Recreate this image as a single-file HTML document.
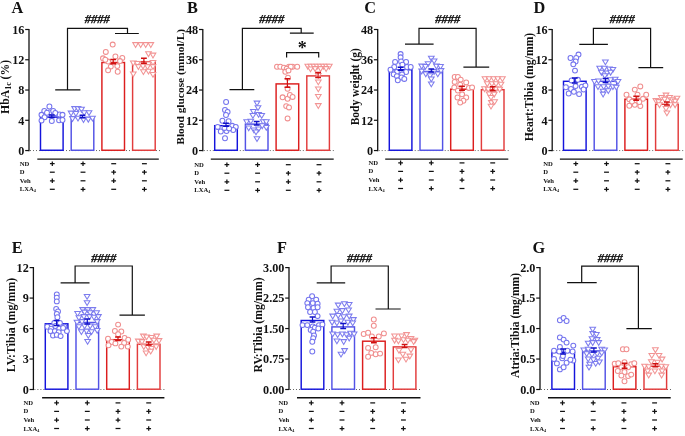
<!DOCTYPE html>
<html><head><meta charset="utf-8"><style>
html,body{margin:0;padding:0;background:#fff;}
svg{display:block;will-change:transform;}
</style></head><body>
<svg width="685" height="436" viewBox="0 0 685 436" font-family="'Liberation Serif', serif" fill="#111">
<rect width="685" height="436" fill="#fff"/>
<text x="11.4" y="12.8" font-size="16.3" font-weight="bold">A</text>
<text transform="translate(8.9,86.9) rotate(-90)" text-anchor="middle" font-size="11.7" font-weight="bold">HbA<tspan font-size="8" dy="2.5">1c</tspan><tspan dy="-2.5"> (%)</tspan></text>
<path d="M29 28.9V151.15" stroke="#111" stroke-width="1.3" fill="none"/>
<path d="M25.2 150.55H29" stroke="#111" stroke-width="1.2"/>
<text x="24.4" y="154.85" text-anchor="end" font-size="12.2" font-weight="bold">0</text>
<path d="M25.2 120.29H29" stroke="#111" stroke-width="1.2"/>
<text x="24.4" y="124.59" text-anchor="end" font-size="12.2" font-weight="bold">4</text>
<path d="M25.2 90.03H29" stroke="#111" stroke-width="1.2"/>
<text x="24.4" y="94.33" text-anchor="end" font-size="12.2" font-weight="bold">8</text>
<path d="M25.2 59.76H29" stroke="#111" stroke-width="1.2"/>
<text x="24.4" y="64.06" text-anchor="end" font-size="12.2" font-weight="bold">12</text>
<path d="M25.2 29.5H29" stroke="#111" stroke-width="1.2"/>
<text x="24.4" y="33.8" text-anchor="end" font-size="12.2" font-weight="bold">16</text>
<path d="M30 150.55H160.4" stroke="#666" stroke-width="1" stroke-dasharray="1 2"/>
<rect x="40.5" y="117.1" width="22.6" height="33.15" fill="#fff" stroke="#1414dc" stroke-width="1.45"/>
<rect x="71.2" y="117.4" width="22.6" height="32.85" fill="#fff" stroke="#5252e6" stroke-width="1.45"/>
<rect x="101.9" y="62.5" width="22.6" height="87.75" fill="#fff" stroke="#dc1e1e" stroke-width="1.45"/>
<rect x="132.6" y="61.7" width="22.6" height="88.55" fill="#fff" stroke="#e23c3c" stroke-width="1.45"/>
<circle cx="49.4" cy="106.5" r="2.45" fill="#fff" stroke="#7474ee" stroke-width="1.05"/>
<circle cx="44.3" cy="111" r="2.45" fill="#fff" stroke="#7474ee" stroke-width="1.05"/>
<circle cx="49.4" cy="112.4" r="2.45" fill="#fff" stroke="#7474ee" stroke-width="1.05"/>
<circle cx="53.2" cy="111" r="2.45" fill="#fff" stroke="#7474ee" stroke-width="1.05"/>
<circle cx="41.5" cy="114.8" r="2.45" fill="#fff" stroke="#7474ee" stroke-width="1.05"/>
<circle cx="44.6" cy="117.2" r="2.45" fill="#fff" stroke="#7474ee" stroke-width="1.05"/>
<circle cx="59.4" cy="114.5" r="2.45" fill="#fff" stroke="#7474ee" stroke-width="1.05"/>
<circle cx="62.5" cy="114.8" r="2.45" fill="#fff" stroke="#7474ee" stroke-width="1.05"/>
<circle cx="41.5" cy="120.6" r="2.45" fill="#fff" stroke="#7474ee" stroke-width="1.05"/>
<circle cx="51.8" cy="121" r="2.45" fill="#fff" stroke="#7474ee" stroke-width="1.05"/>
<circle cx="59.1" cy="120.3" r="2.45" fill="#fff" stroke="#7474ee" stroke-width="1.05"/>
<circle cx="62.5" cy="120" r="2.45" fill="#fff" stroke="#7474ee" stroke-width="1.05"/>
<circle cx="47" cy="112.7" r="2.45" fill="#fff" stroke="#7474ee" stroke-width="1.05"/>
<circle cx="55.3" cy="113" r="2.45" fill="#fff" stroke="#7474ee" stroke-width="1.05"/>
<path d="M71.75 106.6H77.45L74.6 111.4Z" fill="#fff" stroke="#7c7cee" stroke-width="1.05" stroke-linejoin="miter"/>
<path d="M75.15 106.6H80.85L78 111.4Z" fill="#fff" stroke="#7c7cee" stroke-width="1.05" stroke-linejoin="miter"/>
<path d="M78.65 107.3H84.35L81.5 112.1Z" fill="#fff" stroke="#7c7cee" stroke-width="1.05" stroke-linejoin="miter"/>
<path d="M68.25 111.1H73.95L71.1 115.9Z" fill="#fff" stroke="#7c7cee" stroke-width="1.05" stroke-linejoin="miter"/>
<path d="M73.05 111.4H78.75L75.9 116.2Z" fill="#fff" stroke="#7c7cee" stroke-width="1.05" stroke-linejoin="miter"/>
<path d="M81.35 110.7H87.05L84.2 115.5Z" fill="#fff" stroke="#7c7cee" stroke-width="1.05" stroke-linejoin="miter"/>
<path d="M86.15 110.7H91.85L89 115.5Z" fill="#fff" stroke="#7c7cee" stroke-width="1.05" stroke-linejoin="miter"/>
<path d="M69.65 116.6H75.35L72.5 121.4Z" fill="#fff" stroke="#7c7cee" stroke-width="1.05" stroke-linejoin="miter"/>
<path d="M75.15 116.2H80.85L78 121Z" fill="#fff" stroke="#7c7cee" stroke-width="1.05" stroke-linejoin="miter"/>
<path d="M80.65 117.6H86.35L83.5 122.4Z" fill="#fff" stroke="#7c7cee" stroke-width="1.05" stroke-linejoin="miter"/>
<path d="M85.45 117.3H91.15L88.3 122.1Z" fill="#fff" stroke="#7c7cee" stroke-width="1.05" stroke-linejoin="miter"/>
<path d="M89.65 116.2H95.35L92.5 121Z" fill="#fff" stroke="#7c7cee" stroke-width="1.05" stroke-linejoin="miter"/>
<circle cx="112.7" cy="44.6" r="2.45" fill="#fff" stroke="#f08e8e" stroke-width="1.05"/>
<circle cx="105.8" cy="51.9" r="2.45" fill="#fff" stroke="#f08e8e" stroke-width="1.05"/>
<circle cx="103" cy="58.3" r="2.45" fill="#fff" stroke="#f08e8e" stroke-width="1.05"/>
<circle cx="108.1" cy="61.6" r="2.45" fill="#fff" stroke="#f08e8e" stroke-width="1.05"/>
<circle cx="115.4" cy="56.5" r="2.45" fill="#fff" stroke="#f08e8e" stroke-width="1.05"/>
<circle cx="122.3" cy="57.9" r="2.45" fill="#fff" stroke="#f08e8e" stroke-width="1.05"/>
<circle cx="110.8" cy="66.6" r="2.45" fill="#fff" stroke="#f08e8e" stroke-width="1.05"/>
<circle cx="117.3" cy="66.1" r="2.45" fill="#fff" stroke="#f08e8e" stroke-width="1.05"/>
<circle cx="108.1" cy="70.3" r="2.45" fill="#fff" stroke="#f08e8e" stroke-width="1.05"/>
<circle cx="117.7" cy="71.7" r="2.45" fill="#fff" stroke="#f08e8e" stroke-width="1.05"/>
<circle cx="120" cy="61.1" r="2.45" fill="#fff" stroke="#f08e8e" stroke-width="1.05"/>
<circle cx="105.3" cy="59.7" r="2.45" fill="#fff" stroke="#f08e8e" stroke-width="1.05"/>
<path d="M132.75 42.6H138.45L135.6 47.4Z" fill="#fff" stroke="#f29494" stroke-width="1.05" stroke-linejoin="miter"/>
<path d="M137.85 42.6H143.55L140.7 47.4Z" fill="#fff" stroke="#f29494" stroke-width="1.05" stroke-linejoin="miter"/>
<path d="M142.85 42.6H148.55L145.7 47.4Z" fill="#fff" stroke="#f29494" stroke-width="1.05" stroke-linejoin="miter"/>
<path d="M147.95 42.6H153.65L150.8 47.4Z" fill="#fff" stroke="#f29494" stroke-width="1.05" stroke-linejoin="miter"/>
<path d="M145.65 51.8H151.35L148.5 56.6Z" fill="#fff" stroke="#f29494" stroke-width="1.05" stroke-linejoin="miter"/>
<path d="M150.15 53.1H155.85L153 57.9Z" fill="#fff" stroke="#f29494" stroke-width="1.05" stroke-linejoin="miter"/>
<path d="M130.45 60.9H136.15L133.3 65.7Z" fill="#fff" stroke="#f29494" stroke-width="1.05" stroke-linejoin="miter"/>
<path d="M134.55 61.4H140.25L137.4 66.2Z" fill="#fff" stroke="#f29494" stroke-width="1.05" stroke-linejoin="miter"/>
<path d="M145.65 61.9H151.35L148.5 66.7Z" fill="#fff" stroke="#f29494" stroke-width="1.05" stroke-linejoin="miter"/>
<path d="M150.15 60.5H155.85L153 65.3Z" fill="#fff" stroke="#f29494" stroke-width="1.05" stroke-linejoin="miter"/>
<path d="M135.55 64.6H141.25L138.4 69.4Z" fill="#fff" stroke="#f29494" stroke-width="1.05" stroke-linejoin="miter"/>
<path d="M140.15 64.1H145.85L143 68.9Z" fill="#fff" stroke="#f29494" stroke-width="1.05" stroke-linejoin="miter"/>
<path d="M144.65 64.6H150.35L147.5 69.4Z" fill="#fff" stroke="#f29494" stroke-width="1.05" stroke-linejoin="miter"/>
<path d="M150.15 64.6H155.85L153 69.4Z" fill="#fff" stroke="#f29494" stroke-width="1.05" stroke-linejoin="miter"/>
<path d="M140.55 69.7H146.25L143.4 74.5Z" fill="#fff" stroke="#f29494" stroke-width="1.05" stroke-linejoin="miter"/>
<path d="M145.65 69.2H151.35L148.5 74Z" fill="#fff" stroke="#f29494" stroke-width="1.05" stroke-linejoin="miter"/>
<path d="M130.45 72H136.15L133.3 76.8Z" fill="#fff" stroke="#f29494" stroke-width="1.05" stroke-linejoin="miter"/>
<path d="M150.15 72.4H155.85L153 77.2Z" fill="#fff" stroke="#f29494" stroke-width="1.05" stroke-linejoin="miter"/>
<path d="M51.8 115V117.4" stroke="#1010c8" stroke-width="1.2" fill="none"/>
<path d="M48.9 115H54.7M48.9 117.4H54.7" stroke="#1010c8" stroke-width="1.5" fill="none"/>
<path d="M82.5 115.3V117.7" stroke="#1010c8" stroke-width="1.2" fill="none"/>
<path d="M79.6 115.3H85.4M79.6 117.7H85.4" stroke="#1010c8" stroke-width="1.5" fill="none"/>
<path d="M113.2 59.4V63.8" stroke="#d01010" stroke-width="1.2" fill="none"/>
<path d="M110.3 59.4H116.1M110.3 63.8H116.1" stroke="#d01010" stroke-width="1.5" fill="none"/>
<path d="M143.9 58.3V63.3" stroke="#d01010" stroke-width="1.2" fill="none"/>
<path d="M141 58.3H146.8M141 63.3H146.8" stroke="#d01010" stroke-width="1.5" fill="none"/>
<path d="M67.5 89.8V28.3H127.5V33.5M55.2 89.8H80.4M115 33.5H138.8" stroke="#111" stroke-width="1.2" fill="none"/>
<text x="97.3" y="23.4" text-anchor="middle" font-size="12.5" font-weight="bold" font-style="italic" stroke="#000" stroke-width="0.25">####</text>
<path d="M37.3 159.1H158.8" stroke="#111" stroke-width="1.4"/>
<text x="19.8" y="165.7" font-size="6.6" font-weight="bold">ND</text>
<path d="M49.95 163.7H54.65M52.3 161.4V166" stroke="#111" stroke-width="1.25"/>
<path d="M80.65 163.7H85.35M83 161.4V166" stroke="#111" stroke-width="1.25"/>
<path d="M111.25 163.7H116.15" stroke="#111" stroke-width="1.25"/>
<path d="M141.95 163.7H146.85" stroke="#111" stroke-width="1.25"/>
<text x="19.8" y="174.2" font-size="6.6" font-weight="bold">D</text>
<path d="M49.85 172.2H54.75" stroke="#111" stroke-width="1.25"/>
<path d="M80.55 172.2H85.45" stroke="#111" stroke-width="1.25"/>
<path d="M111.35 172.2H116.05M113.7 169.9V174.5" stroke="#111" stroke-width="1.25"/>
<path d="M142.05 172.2H146.75M144.4 169.9V174.5" stroke="#111" stroke-width="1.25"/>
<text x="19.8" y="182.8" font-size="6.6" font-weight="bold">Veh</text>
<path d="M49.95 180.8H54.65M52.3 178.5V183.1" stroke="#111" stroke-width="1.25"/>
<path d="M80.55 180.8H85.45" stroke="#111" stroke-width="1.25"/>
<path d="M111.35 180.8H116.05M113.7 178.5V183.1" stroke="#111" stroke-width="1.25"/>
<path d="M141.95 180.8H146.85" stroke="#111" stroke-width="1.25"/>
<text x="19.8" y="191.3" font-size="6.6" font-weight="bold">LXA<tspan font-size="4.2" dy="1">4</tspan></text>
<path d="M49.85 189.3H54.75" stroke="#111" stroke-width="1.25"/>
<path d="M80.65 189.3H85.35M83 187V191.6" stroke="#111" stroke-width="1.25"/>
<path d="M111.25 189.3H116.15" stroke="#111" stroke-width="1.25"/>
<path d="M142.05 189.3H146.75M144.4 187V191.6" stroke="#111" stroke-width="1.25"/>
<text x="187.1" y="12.8" font-size="16.3" font-weight="bold">B</text>
<text transform="translate(184.2,86.75) rotate(-90)" text-anchor="middle" font-size="11.4" font-weight="bold">Blood glucose (mmol/L)</text>
<path d="M202.8 28.9V151.15" stroke="#111" stroke-width="1.3" fill="none"/>
<path d="M199 150.55H202.8" stroke="#111" stroke-width="1.2"/>
<text x="198.2" y="154.85" text-anchor="end" font-size="12.2" font-weight="bold">0</text>
<path d="M199 120.29H202.8" stroke="#111" stroke-width="1.2"/>
<text x="198.2" y="124.59" text-anchor="end" font-size="12.2" font-weight="bold">12</text>
<path d="M199 90.03H202.8" stroke="#111" stroke-width="1.2"/>
<text x="198.2" y="94.33" text-anchor="end" font-size="12.2" font-weight="bold">24</text>
<path d="M199 59.76H202.8" stroke="#111" stroke-width="1.2"/>
<text x="198.2" y="64.06" text-anchor="end" font-size="12.2" font-weight="bold">36</text>
<path d="M199 29.5H202.8" stroke="#111" stroke-width="1.2"/>
<text x="198.2" y="33.8" text-anchor="end" font-size="12.2" font-weight="bold">48</text>
<path d="M203.8 150.55H334.6" stroke="#666" stroke-width="1" stroke-dasharray="1 2"/>
<rect x="214.7" y="125.7" width="22.6" height="24.55" fill="#fff" stroke="#1414dc" stroke-width="1.45"/>
<rect x="245.4" y="124.1" width="22.6" height="26.15" fill="#fff" stroke="#5252e6" stroke-width="1.45"/>
<rect x="276.1" y="83.9" width="22.6" height="66.35" fill="#fff" stroke="#dc1e1e" stroke-width="1.45"/>
<rect x="306.8" y="75.9" width="22.6" height="74.35" fill="#fff" stroke="#e23c3c" stroke-width="1.45"/>
<circle cx="226.1" cy="102" r="2.45" fill="#fff" stroke="#7474ee" stroke-width="1.05"/>
<circle cx="225" cy="110" r="2.45" fill="#fff" stroke="#7474ee" stroke-width="1.05"/>
<circle cx="227.6" cy="112" r="2.45" fill="#fff" stroke="#7474ee" stroke-width="1.05"/>
<circle cx="226" cy="115" r="2.45" fill="#fff" stroke="#7474ee" stroke-width="1.05"/>
<circle cx="222.4" cy="120.7" r="2.45" fill="#fff" stroke="#7474ee" stroke-width="1.05"/>
<circle cx="228.6" cy="121.2" r="2.45" fill="#fff" stroke="#7474ee" stroke-width="1.05"/>
<circle cx="217.7" cy="126.9" r="2.45" fill="#fff" stroke="#7474ee" stroke-width="1.05"/>
<circle cx="232.2" cy="125.8" r="2.45" fill="#fff" stroke="#7474ee" stroke-width="1.05"/>
<circle cx="235.8" cy="126.9" r="2.45" fill="#fff" stroke="#7474ee" stroke-width="1.05"/>
<circle cx="220.8" cy="131.5" r="2.45" fill="#fff" stroke="#7474ee" stroke-width="1.05"/>
<circle cx="226.5" cy="131" r="2.45" fill="#fff" stroke="#7474ee" stroke-width="1.05"/>
<circle cx="233.2" cy="130" r="2.45" fill="#fff" stroke="#7474ee" stroke-width="1.05"/>
<circle cx="225" cy="138.2" r="2.45" fill="#fff" stroke="#7474ee" stroke-width="1.05"/>
<circle cx="224.5" cy="127.9" r="2.45" fill="#fff" stroke="#7474ee" stroke-width="1.05"/>
<circle cx="229.1" cy="128.4" r="2.45" fill="#fff" stroke="#7474ee" stroke-width="1.05"/>
<path d="M254.15 101.1H259.85L257 105.9Z" fill="#fff" stroke="#7c7cee" stroke-width="1.05" stroke-linejoin="miter"/>
<path d="M255.15 105.7H260.85L258 110.5Z" fill="#fff" stroke="#7c7cee" stroke-width="1.05" stroke-linejoin="miter"/>
<path d="M250.55 109.4H256.25L253.4 114.2Z" fill="#fff" stroke="#7c7cee" stroke-width="1.05" stroke-linejoin="miter"/>
<path d="M255.75 112.5H261.45L258.6 117.3Z" fill="#fff" stroke="#7c7cee" stroke-width="1.05" stroke-linejoin="miter"/>
<path d="M250.05 113.5H255.75L252.9 118.3Z" fill="#fff" stroke="#7c7cee" stroke-width="1.05" stroke-linejoin="miter"/>
<path d="M258.85 113.5H264.55L261.7 118.3Z" fill="#fff" stroke="#7c7cee" stroke-width="1.05" stroke-linejoin="miter"/>
<path d="M243.85 119.7H249.55L246.7 124.5Z" fill="#fff" stroke="#7c7cee" stroke-width="1.05" stroke-linejoin="miter"/>
<path d="M247.95 119.2H253.65L250.8 124Z" fill="#fff" stroke="#7c7cee" stroke-width="1.05" stroke-linejoin="miter"/>
<path d="M260.35 119.7H266.05L263.2 124.5Z" fill="#fff" stroke="#7c7cee" stroke-width="1.05" stroke-linejoin="miter"/>
<path d="M263.45 119.7H269.15L266.3 124.5Z" fill="#fff" stroke="#7c7cee" stroke-width="1.05" stroke-linejoin="miter"/>
<path d="M245.85 125.9H251.55L248.7 130.7Z" fill="#fff" stroke="#7c7cee" stroke-width="1.05" stroke-linejoin="miter"/>
<path d="M251.05 128H256.75L253.9 132.8Z" fill="#fff" stroke="#7c7cee" stroke-width="1.05" stroke-linejoin="miter"/>
<path d="M255.75 126.9H261.45L258.6 131.7Z" fill="#fff" stroke="#7c7cee" stroke-width="1.05" stroke-linejoin="miter"/>
<path d="M263.45 125.4H269.15L266.3 130.2Z" fill="#fff" stroke="#7c7cee" stroke-width="1.05" stroke-linejoin="miter"/>
<path d="M259.35 123.8H265.05L262.2 128.6Z" fill="#fff" stroke="#7c7cee" stroke-width="1.05" stroke-linejoin="miter"/>
<path d="M253.15 130H258.85L256 134.8Z" fill="#fff" stroke="#7c7cee" stroke-width="1.05" stroke-linejoin="miter"/>
<path d="M254.15 136.7H259.85L257 141.5Z" fill="#fff" stroke="#7c7cee" stroke-width="1.05" stroke-linejoin="miter"/>
<circle cx="277" cy="66.7" r="2.45" fill="#fff" stroke="#f08e8e" stroke-width="1.05"/>
<circle cx="280.3" cy="66.7" r="2.45" fill="#fff" stroke="#f08e8e" stroke-width="1.05"/>
<circle cx="289" cy="66.7" r="2.45" fill="#fff" stroke="#f08e8e" stroke-width="1.05"/>
<circle cx="292.6" cy="66.7" r="2.45" fill="#fff" stroke="#f08e8e" stroke-width="1.05"/>
<circle cx="297.2" cy="66.7" r="2.45" fill="#fff" stroke="#f08e8e" stroke-width="1.05"/>
<circle cx="283.9" cy="67.6" r="2.45" fill="#fff" stroke="#f08e8e" stroke-width="1.05"/>
<circle cx="286.7" cy="68.6" r="2.45" fill="#fff" stroke="#f08e8e" stroke-width="1.05"/>
<circle cx="290.8" cy="66.7" r="2.45" fill="#fff" stroke="#f08e8e" stroke-width="1.05"/>
<circle cx="285.3" cy="71.8" r="2.45" fill="#fff" stroke="#f08e8e" stroke-width="1.05"/>
<circle cx="288.5" cy="70.4" r="2.45" fill="#fff" stroke="#f08e8e" stroke-width="1.05"/>
<circle cx="288" cy="77.7" r="2.45" fill="#fff" stroke="#f08e8e" stroke-width="1.05"/>
<circle cx="287.6" cy="88.7" r="2.45" fill="#fff" stroke="#f08e8e" stroke-width="1.05"/>
<circle cx="282.6" cy="97.3" r="2.45" fill="#fff" stroke="#f08e8e" stroke-width="1.05"/>
<circle cx="287.6" cy="98.7" r="2.45" fill="#fff" stroke="#f08e8e" stroke-width="1.05"/>
<circle cx="289.9" cy="95" r="2.45" fill="#fff" stroke="#f08e8e" stroke-width="1.05"/>
<circle cx="292.6" cy="96.9" r="2.45" fill="#fff" stroke="#f08e8e" stroke-width="1.05"/>
<circle cx="286.2" cy="106.1" r="2.45" fill="#fff" stroke="#f08e8e" stroke-width="1.05"/>
<circle cx="289" cy="107.4" r="2.45" fill="#fff" stroke="#f08e8e" stroke-width="1.05"/>
<circle cx="287.6" cy="118.4" r="2.45" fill="#fff" stroke="#f08e8e" stroke-width="1.05"/>
<path d="M304.95 64.3H310.65L307.8 69.1Z" fill="#fff" stroke="#f29494" stroke-width="1.05" stroke-linejoin="miter"/>
<path d="M308.05 64.3H313.75L310.9 69.1Z" fill="#fff" stroke="#f29494" stroke-width="1.05" stroke-linejoin="miter"/>
<path d="M311.15 64.3H316.85L314 69.1Z" fill="#fff" stroke="#f29494" stroke-width="1.05" stroke-linejoin="miter"/>
<path d="M314.25 64.3H319.95L317.1 69.1Z" fill="#fff" stroke="#f29494" stroke-width="1.05" stroke-linejoin="miter"/>
<path d="M317.35 64.3H323.05L320.2 69.1Z" fill="#fff" stroke="#f29494" stroke-width="1.05" stroke-linejoin="miter"/>
<path d="M320.45 64.3H326.15L323.3 69.1Z" fill="#fff" stroke="#f29494" stroke-width="1.05" stroke-linejoin="miter"/>
<path d="M323.55 64.3H329.25L326.4 69.1Z" fill="#fff" stroke="#f29494" stroke-width="1.05" stroke-linejoin="miter"/>
<path d="M326.45 64.3H332.15L329.3 69.1Z" fill="#fff" stroke="#f29494" stroke-width="1.05" stroke-linejoin="miter"/>
<path d="M307.65 67H313.35L310.5 71.8Z" fill="#fff" stroke="#f29494" stroke-width="1.05" stroke-linejoin="miter"/>
<path d="M312.25 66.6H317.95L315.1 71.4Z" fill="#fff" stroke="#f29494" stroke-width="1.05" stroke-linejoin="miter"/>
<path d="M317.75 66.6H323.45L320.6 71.4Z" fill="#fff" stroke="#f29494" stroke-width="1.05" stroke-linejoin="miter"/>
<path d="M323.25 66.6H328.95L326.1 71.4Z" fill="#fff" stroke="#f29494" stroke-width="1.05" stroke-linejoin="miter"/>
<path d="M315.45 73.5H321.15L318.3 78.3Z" fill="#fff" stroke="#f29494" stroke-width="1.05" stroke-linejoin="miter"/>
<path d="M315.45 80H321.15L318.3 84.8Z" fill="#fff" stroke="#f29494" stroke-width="1.05" stroke-linejoin="miter"/>
<path d="M315.45 87H321.15L318.3 91.8Z" fill="#fff" stroke="#f29494" stroke-width="1.05" stroke-linejoin="miter"/>
<path d="M315.45 94.4H321.15L318.3 99.2Z" fill="#fff" stroke="#f29494" stroke-width="1.05" stroke-linejoin="miter"/>
<path d="M315.45 103.6H321.15L318.3 108.4Z" fill="#fff" stroke="#f29494" stroke-width="1.05" stroke-linejoin="miter"/>
<path d="M226 123.3V126.3" stroke="#1010c8" stroke-width="1.2" fill="none"/>
<path d="M223.1 123.3H228.9M223.1 126.3H228.9" stroke="#1010c8" stroke-width="1.5" fill="none"/>
<path d="M256.7 121.4V125" stroke="#1010c8" stroke-width="1.2" fill="none"/>
<path d="M253.8 121.4H259.6M253.8 125H259.6" stroke="#1010c8" stroke-width="1.5" fill="none"/>
<path d="M287.4 78.8V87.2" stroke="#d01010" stroke-width="1.2" fill="none"/>
<path d="M284.5 78.8H290.3M284.5 87.2H290.3" stroke="#d01010" stroke-width="1.5" fill="none"/>
<path d="M318.1 72.5V77.5" stroke="#d01010" stroke-width="1.2" fill="none"/>
<path d="M315.2 72.5H321M315.2 77.5H321" stroke="#d01010" stroke-width="1.5" fill="none"/>
<path d="M242.4 89.7V28.3H301.2V33.2M229.5 89.7H254.3M289.9 33.2H313.7" stroke="#111" stroke-width="1.2" fill="none"/>
<text x="271.8" y="23.4" text-anchor="middle" font-size="12.5" font-weight="bold" font-style="italic" stroke="#000" stroke-width="0.25">####</text>
<text x="302.3" y="53.8" text-anchor="middle" font-size="18" font-weight="bold">*</text>
<path d="M286.6 57.6V52.7H318.7V57.6" stroke="#111" stroke-width="1.2" fill="none"/>
<path d="M210.8 159.1H333.7" stroke="#111" stroke-width="1.4"/>
<text x="194.3" y="166.7" font-size="6.6" font-weight="bold">ND</text>
<path d="M224.55 164.7H229.25M226.9 162.4V167" stroke="#111" stroke-width="1.25"/>
<path d="M255.25 164.7H259.95M257.6 162.4V167" stroke="#111" stroke-width="1.25"/>
<path d="M285.85 164.7H290.75" stroke="#111" stroke-width="1.25"/>
<path d="M316.55 164.7H321.45" stroke="#111" stroke-width="1.25"/>
<text x="194.3" y="175.2" font-size="6.6" font-weight="bold">D</text>
<path d="M224.45 173.2H229.35" stroke="#111" stroke-width="1.25"/>
<path d="M255.15 173.2H260.05" stroke="#111" stroke-width="1.25"/>
<path d="M285.95 173.2H290.65M288.3 170.9V175.5" stroke="#111" stroke-width="1.25"/>
<path d="M316.65 173.2H321.35M319 170.9V175.5" stroke="#111" stroke-width="1.25"/>
<text x="194.3" y="183.8" font-size="6.6" font-weight="bold">Veh</text>
<path d="M224.55 181.8H229.25M226.9 179.5V184.1" stroke="#111" stroke-width="1.25"/>
<path d="M255.15 181.8H260.05" stroke="#111" stroke-width="1.25"/>
<path d="M285.95 181.8H290.65M288.3 179.5V184.1" stroke="#111" stroke-width="1.25"/>
<path d="M316.55 181.8H321.45" stroke="#111" stroke-width="1.25"/>
<text x="194.3" y="192.3" font-size="6.6" font-weight="bold">LXA<tspan font-size="4.2" dy="1">4</tspan></text>
<path d="M224.45 190.3H229.35" stroke="#111" stroke-width="1.25"/>
<path d="M255.25 190.3H259.95M257.6 188V192.6" stroke="#111" stroke-width="1.25"/>
<path d="M285.85 190.3H290.75" stroke="#111" stroke-width="1.25"/>
<path d="M316.65 190.3H321.35M319 188V192.6" stroke="#111" stroke-width="1.25"/>
<text x="364.3" y="12.8" font-size="16.3" font-weight="bold">C</text>
<text transform="translate(358.6,86.7) rotate(-90)" text-anchor="middle" font-size="11.5" font-weight="bold">Body weight (g)</text>
<path d="M377.7 28.9V151.15" stroke="#111" stroke-width="1.3" fill="none"/>
<path d="M373.9 150.55H377.7" stroke="#111" stroke-width="1.2"/>
<text x="373.1" y="154.85" text-anchor="end" font-size="12.2" font-weight="bold">0</text>
<path d="M373.9 120.29H377.7" stroke="#111" stroke-width="1.2"/>
<text x="373.1" y="124.59" text-anchor="end" font-size="12.2" font-weight="bold">12</text>
<path d="M373.9 90.03H377.7" stroke="#111" stroke-width="1.2"/>
<text x="373.1" y="94.33" text-anchor="end" font-size="12.2" font-weight="bold">24</text>
<path d="M373.9 59.76H377.7" stroke="#111" stroke-width="1.2"/>
<text x="373.1" y="64.06" text-anchor="end" font-size="12.2" font-weight="bold">36</text>
<path d="M373.9 29.5H377.7" stroke="#111" stroke-width="1.2"/>
<text x="373.1" y="33.8" text-anchor="end" font-size="12.2" font-weight="bold">48</text>
<path d="M378.7 150.55H509.2" stroke="#666" stroke-width="1" stroke-dasharray="1 2"/>
<rect x="389.3" y="69.7" width="22.6" height="80.55" fill="#fff" stroke="#1414dc" stroke-width="1.45"/>
<rect x="420" y="71.5" width="22.6" height="78.75" fill="#fff" stroke="#5252e6" stroke-width="1.45"/>
<rect x="450.7" y="89.2" width="22.6" height="61.05" fill="#fff" stroke="#dc1e1e" stroke-width="1.45"/>
<rect x="481.4" y="89.7" width="22.6" height="60.55" fill="#fff" stroke="#e23c3c" stroke-width="1.45"/>
<circle cx="400.6" cy="54.1" r="2.45" fill="#fff" stroke="#7474ee" stroke-width="1.05"/>
<circle cx="400.6" cy="57.3" r="2.45" fill="#fff" stroke="#7474ee" stroke-width="1.05"/>
<circle cx="395.1" cy="61.9" r="2.45" fill="#fff" stroke="#7474ee" stroke-width="1.05"/>
<circle cx="401.1" cy="61.5" r="2.45" fill="#fff" stroke="#7474ee" stroke-width="1.05"/>
<circle cx="406.1" cy="61.9" r="2.45" fill="#fff" stroke="#7474ee" stroke-width="1.05"/>
<circle cx="402.4" cy="64.7" r="2.45" fill="#fff" stroke="#7474ee" stroke-width="1.05"/>
<circle cx="394.2" cy="67" r="2.45" fill="#fff" stroke="#7474ee" stroke-width="1.05"/>
<circle cx="407" cy="67" r="2.45" fill="#fff" stroke="#7474ee" stroke-width="1.05"/>
<circle cx="410.7" cy="67" r="2.45" fill="#fff" stroke="#7474ee" stroke-width="1.05"/>
<circle cx="390.5" cy="69.7" r="2.45" fill="#fff" stroke="#7474ee" stroke-width="1.05"/>
<circle cx="396.9" cy="72" r="2.45" fill="#fff" stroke="#7474ee" stroke-width="1.05"/>
<circle cx="406.1" cy="72" r="2.45" fill="#fff" stroke="#7474ee" stroke-width="1.05"/>
<circle cx="393.7" cy="74.3" r="2.45" fill="#fff" stroke="#7474ee" stroke-width="1.05"/>
<circle cx="402" cy="74.3" r="2.45" fill="#fff" stroke="#7474ee" stroke-width="1.05"/>
<circle cx="396.9" cy="76.1" r="2.45" fill="#fff" stroke="#7474ee" stroke-width="1.05"/>
<circle cx="401.5" cy="77.5" r="2.45" fill="#fff" stroke="#7474ee" stroke-width="1.05"/>
<circle cx="397.8" cy="80.3" r="2.45" fill="#fff" stroke="#7474ee" stroke-width="1.05"/>
<circle cx="404.3" cy="78.9" r="2.45" fill="#fff" stroke="#7474ee" stroke-width="1.05"/>
<path d="M428.45 56.3H434.15L431.3 61.1Z" fill="#fff" stroke="#7c7cee" stroke-width="1.05" stroke-linejoin="miter"/>
<path d="M431.25 59H436.95L434.1 63.8Z" fill="#fff" stroke="#7c7cee" stroke-width="1.05" stroke-linejoin="miter"/>
<path d="M425.25 61.8H430.95L428.1 66.6Z" fill="#fff" stroke="#7c7cee" stroke-width="1.05" stroke-linejoin="miter"/>
<path d="M418.85 64.1H424.55L421.7 68.9Z" fill="#fff" stroke="#7c7cee" stroke-width="1.05" stroke-linejoin="miter"/>
<path d="M422.55 64.5H428.25L425.4 69.3Z" fill="#fff" stroke="#7c7cee" stroke-width="1.05" stroke-linejoin="miter"/>
<path d="M433.55 64.1H439.25L436.4 68.9Z" fill="#fff" stroke="#7c7cee" stroke-width="1.05" stroke-linejoin="miter"/>
<path d="M437.65 64.5H443.35L440.5 69.3Z" fill="#fff" stroke="#7c7cee" stroke-width="1.05" stroke-linejoin="miter"/>
<path d="M418.85 69.1H424.55L421.7 73.9Z" fill="#fff" stroke="#7c7cee" stroke-width="1.05" stroke-linejoin="miter"/>
<path d="M422.95 71.9H428.65L425.8 76.7Z" fill="#fff" stroke="#7c7cee" stroke-width="1.05" stroke-linejoin="miter"/>
<path d="M431.25 69.6H436.95L434.1 74.4Z" fill="#fff" stroke="#7c7cee" stroke-width="1.05" stroke-linejoin="miter"/>
<path d="M434.95 71.9H440.65L437.8 76.7Z" fill="#fff" stroke="#7c7cee" stroke-width="1.05" stroke-linejoin="miter"/>
<path d="M438.15 68.6H443.85L441 73.4Z" fill="#fff" stroke="#7c7cee" stroke-width="1.05" stroke-linejoin="miter"/>
<path d="M427.15 73.7H432.85L430 78.5Z" fill="#fff" stroke="#7c7cee" stroke-width="1.05" stroke-linejoin="miter"/>
<path d="M428.45 76.9H434.15L431.3 81.7Z" fill="#fff" stroke="#7c7cee" stroke-width="1.05" stroke-linejoin="miter"/>
<path d="M428.45 81.9H434.15L431.3 86.7Z" fill="#fff" stroke="#7c7cee" stroke-width="1.05" stroke-linejoin="miter"/>
<circle cx="454.7" cy="76.9" r="2.45" fill="#fff" stroke="#f08e8e" stroke-width="1.05"/>
<circle cx="457.9" cy="76.9" r="2.45" fill="#fff" stroke="#f08e8e" stroke-width="1.05"/>
<circle cx="460.7" cy="79.6" r="2.45" fill="#fff" stroke="#f08e8e" stroke-width="1.05"/>
<circle cx="454.7" cy="81.9" r="2.45" fill="#fff" stroke="#f08e8e" stroke-width="1.05"/>
<circle cx="466.2" cy="82.4" r="2.45" fill="#fff" stroke="#f08e8e" stroke-width="1.05"/>
<circle cx="460.2" cy="84.7" r="2.45" fill="#fff" stroke="#f08e8e" stroke-width="1.05"/>
<circle cx="454.3" cy="87.4" r="2.45" fill="#fff" stroke="#f08e8e" stroke-width="1.05"/>
<circle cx="468.9" cy="87.9" r="2.45" fill="#fff" stroke="#f08e8e" stroke-width="1.05"/>
<circle cx="472.1" cy="87.4" r="2.45" fill="#fff" stroke="#f08e8e" stroke-width="1.05"/>
<circle cx="457.9" cy="90.6" r="2.45" fill="#fff" stroke="#f08e8e" stroke-width="1.05"/>
<circle cx="462.1" cy="94.3" r="2.45" fill="#fff" stroke="#f08e8e" stroke-width="1.05"/>
<circle cx="457.5" cy="97.5" r="2.45" fill="#fff" stroke="#f08e8e" stroke-width="1.05"/>
<circle cx="466.2" cy="97.5" r="2.45" fill="#fff" stroke="#f08e8e" stroke-width="1.05"/>
<circle cx="463.4" cy="100.7" r="2.45" fill="#fff" stroke="#f08e8e" stroke-width="1.05"/>
<circle cx="460.2" cy="102.6" r="2.45" fill="#fff" stroke="#f08e8e" stroke-width="1.05"/>
<path d="M482.15 76.7H487.85L485 81.5Z" fill="#fff" stroke="#f29494" stroke-width="1.05" stroke-linejoin="miter"/>
<path d="M486.25 76.7H491.95L489.1 81.5Z" fill="#fff" stroke="#f29494" stroke-width="1.05" stroke-linejoin="miter"/>
<path d="M490.85 76.7H496.55L493.7 81.5Z" fill="#fff" stroke="#f29494" stroke-width="1.05" stroke-linejoin="miter"/>
<path d="M494.95 76.7H500.65L497.8 81.5Z" fill="#fff" stroke="#f29494" stroke-width="1.05" stroke-linejoin="miter"/>
<path d="M499.55 76.7H505.25L502.4 81.5Z" fill="#fff" stroke="#f29494" stroke-width="1.05" stroke-linejoin="miter"/>
<path d="M484.45 81.8H490.15L487.3 86.6Z" fill="#fff" stroke="#f29494" stroke-width="1.05" stroke-linejoin="miter"/>
<path d="M489.05 81.8H494.75L491.9 86.6Z" fill="#fff" stroke="#f29494" stroke-width="1.05" stroke-linejoin="miter"/>
<path d="M493.15 81.8H498.85L496 86.6Z" fill="#fff" stroke="#f29494" stroke-width="1.05" stroke-linejoin="miter"/>
<path d="M498.15 82.2H503.85L501 87Z" fill="#fff" stroke="#f29494" stroke-width="1.05" stroke-linejoin="miter"/>
<path d="M481.65 86.8H487.35L484.5 91.6Z" fill="#fff" stroke="#f29494" stroke-width="1.05" stroke-linejoin="miter"/>
<path d="M485.35 87.3H491.05L488.2 92.1Z" fill="#fff" stroke="#f29494" stroke-width="1.05" stroke-linejoin="miter"/>
<path d="M493.15 86.8H498.85L496 91.6Z" fill="#fff" stroke="#f29494" stroke-width="1.05" stroke-linejoin="miter"/>
<path d="M496.85 87.3H502.55L499.7 92.1Z" fill="#fff" stroke="#f29494" stroke-width="1.05" stroke-linejoin="miter"/>
<path d="M486.25 91.9H491.95L489.1 96.7Z" fill="#fff" stroke="#f29494" stroke-width="1.05" stroke-linejoin="miter"/>
<path d="M491.35 92.3H497.05L494.2 97.1Z" fill="#fff" stroke="#f29494" stroke-width="1.05" stroke-linejoin="miter"/>
<path d="M488.15 95.5H493.85L491 100.3Z" fill="#fff" stroke="#f29494" stroke-width="1.05" stroke-linejoin="miter"/>
<path d="M488.55 100.6H494.25L491.4 105.4Z" fill="#fff" stroke="#f29494" stroke-width="1.05" stroke-linejoin="miter"/>
<path d="M491.75 99.7H497.45L494.6 104.5Z" fill="#fff" stroke="#f29494" stroke-width="1.05" stroke-linejoin="miter"/>
<path d="M488.15 104.2H493.85L491 109Z" fill="#fff" stroke="#f29494" stroke-width="1.05" stroke-linejoin="miter"/>
<path d="M400.6 67.3V70.3" stroke="#1010c8" stroke-width="1.2" fill="none"/>
<path d="M397.7 67.3H403.5M397.7 70.3H403.5" stroke="#1010c8" stroke-width="1.5" fill="none"/>
<path d="M431.3 69.1V72.1" stroke="#1010c8" stroke-width="1.2" fill="none"/>
<path d="M428.4 69.1H434.2M428.4 72.1H434.2" stroke="#1010c8" stroke-width="1.5" fill="none"/>
<path d="M462 86.3V90.3" stroke="#d01010" stroke-width="1.2" fill="none"/>
<path d="M459.1 86.3H464.9M459.1 90.3H464.9" stroke="#d01010" stroke-width="1.5" fill="none"/>
<path d="M492.7 86.8V90.8" stroke="#d01010" stroke-width="1.2" fill="none"/>
<path d="M489.8 86.8H495.6M489.8 90.8H495.6" stroke="#d01010" stroke-width="1.5" fill="none"/>
<path d="M419 44.2V28.3H476.1V67.2M405 44.2H433.6M463.4 67.2H489.2" stroke="#111" stroke-width="1.2" fill="none"/>
<text x="447.7" y="23" text-anchor="middle" font-size="12.5" font-weight="bold" font-style="italic" stroke="#000" stroke-width="0.25">####</text>
<path d="M385.2 159.1H508.3" stroke="#111" stroke-width="1.4"/>
<text x="368.6" y="164.9" font-size="6.6" font-weight="bold">ND</text>
<path d="M398.25 162.9H402.95M400.6 160.6V165.2" stroke="#111" stroke-width="1.25"/>
<path d="M428.95 162.9H433.65M431.3 160.6V165.2" stroke="#111" stroke-width="1.25"/>
<path d="M459.55 162.9H464.45" stroke="#111" stroke-width="1.25"/>
<path d="M490.25 162.9H495.15" stroke="#111" stroke-width="1.25"/>
<text x="368.6" y="173.4" font-size="6.6" font-weight="bold">D</text>
<path d="M398.15 171.4H403.05" stroke="#111" stroke-width="1.25"/>
<path d="M428.85 171.4H433.75" stroke="#111" stroke-width="1.25"/>
<path d="M459.65 171.4H464.35M462 169.1V173.7" stroke="#111" stroke-width="1.25"/>
<path d="M490.35 171.4H495.05M492.7 169.1V173.7" stroke="#111" stroke-width="1.25"/>
<text x="368.6" y="182" font-size="6.6" font-weight="bold">Veh</text>
<path d="M398.25 180H402.95M400.6 177.7V182.3" stroke="#111" stroke-width="1.25"/>
<path d="M428.85 180H433.75" stroke="#111" stroke-width="1.25"/>
<path d="M459.65 180H464.35M462 177.7V182.3" stroke="#111" stroke-width="1.25"/>
<path d="M490.25 180H495.15" stroke="#111" stroke-width="1.25"/>
<text x="368.6" y="190.5" font-size="6.6" font-weight="bold">LXA<tspan font-size="4.2" dy="1">4</tspan></text>
<path d="M398.15 188.5H403.05" stroke="#111" stroke-width="1.25"/>
<path d="M428.95 188.5H433.65M431.3 186.2V190.8" stroke="#111" stroke-width="1.25"/>
<path d="M459.55 188.5H464.45" stroke="#111" stroke-width="1.25"/>
<path d="M490.35 188.5H495.05M492.7 186.2V190.8" stroke="#111" stroke-width="1.25"/>
<text x="533.4" y="12.8" font-size="16.3" font-weight="bold">D</text>
<text transform="translate(533.2,87) rotate(-90)" text-anchor="middle" font-size="11.7" font-weight="bold">Heart:Tibia (mg/mm)</text>
<path d="M552.2 28.9V151.15" stroke="#111" stroke-width="1.3" fill="none"/>
<path d="M548.4 150.55H552.2" stroke="#111" stroke-width="1.2"/>
<text x="547.6" y="154.85" text-anchor="end" font-size="12.2" font-weight="bold">0</text>
<path d="M548.4 120.29H552.2" stroke="#111" stroke-width="1.2"/>
<text x="547.6" y="124.59" text-anchor="end" font-size="12.2" font-weight="bold">4</text>
<path d="M548.4 90.03H552.2" stroke="#111" stroke-width="1.2"/>
<text x="547.6" y="94.33" text-anchor="end" font-size="12.2" font-weight="bold">8</text>
<path d="M548.4 59.76H552.2" stroke="#111" stroke-width="1.2"/>
<text x="547.6" y="64.06" text-anchor="end" font-size="12.2" font-weight="bold">12</text>
<path d="M548.4 29.5H552.2" stroke="#111" stroke-width="1.2"/>
<text x="547.6" y="33.8" text-anchor="end" font-size="12.2" font-weight="bold">16</text>
<path d="M553.2 150.55H683.4" stroke="#666" stroke-width="1" stroke-dasharray="1 2"/>
<rect x="563.5" y="81.3" width="22.6" height="68.95" fill="#fff" stroke="#1414dc" stroke-width="1.45"/>
<rect x="594.2" y="81.3" width="22.6" height="68.95" fill="#fff" stroke="#5252e6" stroke-width="1.45"/>
<rect x="624.9" y="99.2" width="22.6" height="51.05" fill="#fff" stroke="#dc1e1e" stroke-width="1.45"/>
<rect x="655.6" y="104.3" width="22.6" height="45.95" fill="#fff" stroke="#e23c3c" stroke-width="1.45"/>
<circle cx="578.5" cy="54.6" r="2.45" fill="#fff" stroke="#7474ee" stroke-width="1.05"/>
<circle cx="570.5" cy="58" r="2.45" fill="#fff" stroke="#7474ee" stroke-width="1.05"/>
<circle cx="576.2" cy="58" r="2.45" fill="#fff" stroke="#7474ee" stroke-width="1.05"/>
<circle cx="575.6" cy="61.5" r="2.45" fill="#fff" stroke="#7474ee" stroke-width="1.05"/>
<circle cx="573.3" cy="64.3" r="2.45" fill="#fff" stroke="#7474ee" stroke-width="1.05"/>
<circle cx="575" cy="70.6" r="2.45" fill="#fff" stroke="#7474ee" stroke-width="1.05"/>
<circle cx="571.6" cy="80.4" r="2.45" fill="#fff" stroke="#7474ee" stroke-width="1.05"/>
<circle cx="577.9" cy="79.8" r="2.45" fill="#fff" stroke="#7474ee" stroke-width="1.05"/>
<circle cx="565.9" cy="87.2" r="2.45" fill="#fff" stroke="#7474ee" stroke-width="1.05"/>
<circle cx="571" cy="89" r="2.45" fill="#fff" stroke="#7474ee" stroke-width="1.05"/>
<circle cx="575.6" cy="86.1" r="2.45" fill="#fff" stroke="#7474ee" stroke-width="1.05"/>
<circle cx="581.9" cy="86.7" r="2.45" fill="#fff" stroke="#7474ee" stroke-width="1.05"/>
<circle cx="585.4" cy="85.5" r="2.45" fill="#fff" stroke="#7474ee" stroke-width="1.05"/>
<circle cx="568.7" cy="93.5" r="2.45" fill="#fff" stroke="#7474ee" stroke-width="1.05"/>
<circle cx="573.9" cy="91.8" r="2.45" fill="#fff" stroke="#7474ee" stroke-width="1.05"/>
<circle cx="579.1" cy="94.1" r="2.45" fill="#fff" stroke="#7474ee" stroke-width="1.05"/>
<circle cx="583.6" cy="89.5" r="2.45" fill="#fff" stroke="#7474ee" stroke-width="1.05"/>
<path d="M602.55 60H608.25L605.4 64.8Z" fill="#fff" stroke="#7c7cee" stroke-width="1.05" stroke-linejoin="miter"/>
<path d="M596.85 66.3H602.55L599.7 71.1Z" fill="#fff" stroke="#7c7cee" stroke-width="1.05" stroke-linejoin="miter"/>
<path d="M601.45 66.3H607.15L604.3 71.1Z" fill="#fff" stroke="#7c7cee" stroke-width="1.05" stroke-linejoin="miter"/>
<path d="M606.55 66.9H612.25L609.4 71.7Z" fill="#fff" stroke="#7c7cee" stroke-width="1.05" stroke-linejoin="miter"/>
<path d="M610.05 67.5H615.75L612.9 72.3Z" fill="#fff" stroke="#7c7cee" stroke-width="1.05" stroke-linejoin="miter"/>
<path d="M598.55 70.3H604.25L601.4 75.1Z" fill="#fff" stroke="#7c7cee" stroke-width="1.05" stroke-linejoin="miter"/>
<path d="M604.25 70.9H609.95L607.1 75.7Z" fill="#fff" stroke="#7c7cee" stroke-width="1.05" stroke-linejoin="miter"/>
<path d="M607.75 70.3H613.45L610.6 75.1Z" fill="#fff" stroke="#7c7cee" stroke-width="1.05" stroke-linejoin="miter"/>
<path d="M601.95 73.8H607.65L604.8 78.6Z" fill="#fff" stroke="#7c7cee" stroke-width="1.05" stroke-linejoin="miter"/>
<path d="M591.65 79.5H597.35L594.5 84.3Z" fill="#fff" stroke="#7c7cee" stroke-width="1.05" stroke-linejoin="miter"/>
<path d="M595.65 78.9H601.35L598.5 83.7Z" fill="#fff" stroke="#7c7cee" stroke-width="1.05" stroke-linejoin="miter"/>
<path d="M607.75 77.8H613.45L610.6 82.6Z" fill="#fff" stroke="#7c7cee" stroke-width="1.05" stroke-linejoin="miter"/>
<path d="M612.35 77.2H618.05L615.2 82Z" fill="#fff" stroke="#7c7cee" stroke-width="1.05" stroke-linejoin="miter"/>
<path d="M615.15 79.5H620.85L618 84.3Z" fill="#fff" stroke="#7c7cee" stroke-width="1.05" stroke-linejoin="miter"/>
<path d="M595.15 84.7H600.85L598 89.5Z" fill="#fff" stroke="#7c7cee" stroke-width="1.05" stroke-linejoin="miter"/>
<path d="M600.85 84.7H606.55L603.7 89.5Z" fill="#fff" stroke="#7c7cee" stroke-width="1.05" stroke-linejoin="miter"/>
<path d="M605.45 84.1H611.15L608.3 88.9Z" fill="#fff" stroke="#7c7cee" stroke-width="1.05" stroke-linejoin="miter"/>
<path d="M610.05 84.7H615.75L612.9 89.5Z" fill="#fff" stroke="#7c7cee" stroke-width="1.05" stroke-linejoin="miter"/>
<path d="M613.45 85.2H619.15L616.3 90Z" fill="#fff" stroke="#7c7cee" stroke-width="1.05" stroke-linejoin="miter"/>
<path d="M600.25 89.3H605.95L603.1 94.1Z" fill="#fff" stroke="#7c7cee" stroke-width="1.05" stroke-linejoin="miter"/>
<path d="M605.45 88.7H611.15L608.3 93.5Z" fill="#fff" stroke="#7c7cee" stroke-width="1.05" stroke-linejoin="miter"/>
<path d="M600.25 92.1H605.95L603.1 96.9Z" fill="#fff" stroke="#7c7cee" stroke-width="1.05" stroke-linejoin="miter"/>
<circle cx="640.3" cy="86.4" r="2.45" fill="#fff" stroke="#f08e8e" stroke-width="1.05"/>
<circle cx="634.8" cy="89.6" r="2.45" fill="#fff" stroke="#f08e8e" stroke-width="1.05"/>
<circle cx="626.5" cy="94.7" r="2.45" fill="#fff" stroke="#f08e8e" stroke-width="1.05"/>
<circle cx="637.5" cy="94.7" r="2.45" fill="#fff" stroke="#f08e8e" stroke-width="1.05"/>
<circle cx="646.2" cy="94.7" r="2.45" fill="#fff" stroke="#f08e8e" stroke-width="1.05"/>
<circle cx="629.3" cy="99.3" r="2.45" fill="#fff" stroke="#f08e8e" stroke-width="1.05"/>
<circle cx="643" cy="98.8" r="2.45" fill="#fff" stroke="#f08e8e" stroke-width="1.05"/>
<circle cx="629.3" cy="105.7" r="2.45" fill="#fff" stroke="#f08e8e" stroke-width="1.05"/>
<circle cx="634.8" cy="104.8" r="2.45" fill="#fff" stroke="#f08e8e" stroke-width="1.05"/>
<circle cx="640.3" cy="106.1" r="2.45" fill="#fff" stroke="#f08e8e" stroke-width="1.05"/>
<circle cx="632" cy="101.6" r="2.45" fill="#fff" stroke="#f08e8e" stroke-width="1.05"/>
<circle cx="639.3" cy="102" r="2.45" fill="#fff" stroke="#f08e8e" stroke-width="1.05"/>
<path d="M663.15 93.1H668.85L666 97.9Z" fill="#fff" stroke="#f29494" stroke-width="1.05" stroke-linejoin="miter"/>
<path d="M658.55 95.4H664.25L661.4 100.2Z" fill="#fff" stroke="#f29494" stroke-width="1.05" stroke-linejoin="miter"/>
<path d="M666.75 95.4H672.45L669.6 100.2Z" fill="#fff" stroke="#f29494" stroke-width="1.05" stroke-linejoin="miter"/>
<path d="M674.15 96.3H679.85L677 101.1Z" fill="#fff" stroke="#f29494" stroke-width="1.05" stroke-linejoin="miter"/>
<path d="M653.05 98.6H658.75L655.9 103.4Z" fill="#fff" stroke="#f29494" stroke-width="1.05" stroke-linejoin="miter"/>
<path d="M655.75 99.6H661.45L658.6 104.4Z" fill="#fff" stroke="#f29494" stroke-width="1.05" stroke-linejoin="miter"/>
<path d="M661.75 97.3H667.45L664.6 102.1Z" fill="#fff" stroke="#f29494" stroke-width="1.05" stroke-linejoin="miter"/>
<path d="M669.55 97.7H675.25L672.4 102.5Z" fill="#fff" stroke="#f29494" stroke-width="1.05" stroke-linejoin="miter"/>
<path d="M672.25 99.1H677.95L675.1 103.9Z" fill="#fff" stroke="#f29494" stroke-width="1.05" stroke-linejoin="miter"/>
<path d="M656.65 102.8H662.35L659.5 107.6Z" fill="#fff" stroke="#f29494" stroke-width="1.05" stroke-linejoin="miter"/>
<path d="M667.65 102.8H673.35L670.5 107.6Z" fill="#fff" stroke="#f29494" stroke-width="1.05" stroke-linejoin="miter"/>
<path d="M672.25 102.8H677.95L675.1 107.6Z" fill="#fff" stroke="#f29494" stroke-width="1.05" stroke-linejoin="miter"/>
<path d="M663.15 106.4H668.85L666 111.2Z" fill="#fff" stroke="#f29494" stroke-width="1.05" stroke-linejoin="miter"/>
<path d="M664.05 111H669.75L666.9 115.8Z" fill="#fff" stroke="#f29494" stroke-width="1.05" stroke-linejoin="miter"/>
<path d="M574.8 77.9V82.9" stroke="#1010c8" stroke-width="1.2" fill="none"/>
<path d="M571.9 77.9H577.7M571.9 82.9H577.7" stroke="#1010c8" stroke-width="1.5" fill="none"/>
<path d="M605.5 78.4V82.4" stroke="#1010c8" stroke-width="1.2" fill="none"/>
<path d="M602.6 78.4H608.4M602.6 82.4H608.4" stroke="#1010c8" stroke-width="1.5" fill="none"/>
<path d="M636.2 96.3V100.3" stroke="#d01010" stroke-width="1.2" fill="none"/>
<path d="M633.3 96.3H639.1M633.3 100.3H639.1" stroke="#d01010" stroke-width="1.5" fill="none"/>
<path d="M666.9 101.9V104.9" stroke="#d01010" stroke-width="1.2" fill="none"/>
<path d="M664 101.9H669.8M664 104.9H669.8" stroke="#d01010" stroke-width="1.5" fill="none"/>
<path d="M593.4 44.3V28.4H650.6V67.7M579.3 44.3H607.9M638.4 67.7H663.2" stroke="#111" stroke-width="1.2" fill="none"/>
<text x="622.3" y="23.3" text-anchor="middle" font-size="12.5" font-weight="bold" font-style="italic" stroke="#000" stroke-width="0.25">####</text>
<path d="M559.9 159.1H682.7" stroke="#111" stroke-width="1.4"/>
<text x="543.2" y="165.7" font-size="6.6" font-weight="bold">ND</text>
<path d="M573.45 163.7H578.15M575.8 161.4V166" stroke="#111" stroke-width="1.25"/>
<path d="M604.15 163.7H608.85M606.5 161.4V166" stroke="#111" stroke-width="1.25"/>
<path d="M634.75 163.7H639.65" stroke="#111" stroke-width="1.25"/>
<path d="M665.45 163.7H670.35" stroke="#111" stroke-width="1.25"/>
<text x="543.2" y="174.2" font-size="6.6" font-weight="bold">D</text>
<path d="M573.35 172.2H578.25" stroke="#111" stroke-width="1.25"/>
<path d="M604.05 172.2H608.95" stroke="#111" stroke-width="1.25"/>
<path d="M634.85 172.2H639.55M637.2 169.9V174.5" stroke="#111" stroke-width="1.25"/>
<path d="M665.55 172.2H670.25M667.9 169.9V174.5" stroke="#111" stroke-width="1.25"/>
<text x="543.2" y="182.8" font-size="6.6" font-weight="bold">Veh</text>
<path d="M573.45 180.8H578.15M575.8 178.5V183.1" stroke="#111" stroke-width="1.25"/>
<path d="M604.05 180.8H608.95" stroke="#111" stroke-width="1.25"/>
<path d="M634.85 180.8H639.55M637.2 178.5V183.1" stroke="#111" stroke-width="1.25"/>
<path d="M665.45 180.8H670.35" stroke="#111" stroke-width="1.25"/>
<text x="543.2" y="191.3" font-size="6.6" font-weight="bold">LXA<tspan font-size="4.2" dy="1">4</tspan></text>
<path d="M573.35 189.3H578.25" stroke="#111" stroke-width="1.25"/>
<path d="M604.15 189.3H608.85M606.5 187V191.6" stroke="#111" stroke-width="1.25"/>
<path d="M634.75 189.3H639.65" stroke="#111" stroke-width="1.25"/>
<path d="M665.55 189.3H670.25M667.9 187V191.6" stroke="#111" stroke-width="1.25"/>
<text x="11.8" y="253" font-size="16.3" font-weight="bold">E</text>
<text transform="translate(14.9,325) rotate(-90)" text-anchor="middle" font-size="11.8" font-weight="bold">LV:Tibia (mg/mm)</text>
<path d="M33.4 267V390.1" stroke="#111" stroke-width="1.3" fill="none"/>
<path d="M29.6 389.5H33.4" stroke="#111" stroke-width="1.2"/>
<text x="28.8" y="393.8" text-anchor="end" font-size="12.2" font-weight="bold">0</text>
<path d="M29.6 359.02H33.4" stroke="#111" stroke-width="1.2"/>
<text x="28.8" y="363.32" text-anchor="end" font-size="12.2" font-weight="bold">3</text>
<path d="M29.6 328.55H33.4" stroke="#111" stroke-width="1.2"/>
<text x="28.8" y="332.85" text-anchor="end" font-size="12.2" font-weight="bold">6</text>
<path d="M29.6 298.08H33.4" stroke="#111" stroke-width="1.2"/>
<text x="28.8" y="302.38" text-anchor="end" font-size="12.2" font-weight="bold">9</text>
<path d="M29.6 267.6H33.4" stroke="#111" stroke-width="1.2"/>
<text x="28.8" y="271.9" text-anchor="end" font-size="12.2" font-weight="bold">12</text>
<path d="M34.4 389.5H165.2" stroke="#666" stroke-width="1" stroke-dasharray="1 2"/>
<rect x="45.3" y="323.8" width="22.6" height="65.4" fill="#fff" stroke="#1414dc" stroke-width="1.45"/>
<rect x="76" y="322.5" width="22.6" height="66.7" fill="#fff" stroke="#5252e6" stroke-width="1.45"/>
<rect x="106.7" y="339.7" width="22.6" height="49.5" fill="#fff" stroke="#dc1e1e" stroke-width="1.45"/>
<rect x="137.4" y="344.3" width="22.6" height="44.9" fill="#fff" stroke="#e23c3c" stroke-width="1.45"/>
<circle cx="56.8" cy="294.5" r="2.45" fill="#fff" stroke="#7474ee" stroke-width="1.05"/>
<circle cx="56.8" cy="297.6" r="2.45" fill="#fff" stroke="#7474ee" stroke-width="1.05"/>
<circle cx="56.8" cy="301.4" r="2.45" fill="#fff" stroke="#7474ee" stroke-width="1.05"/>
<circle cx="56.2" cy="309" r="2.45" fill="#fff" stroke="#7474ee" stroke-width="1.05"/>
<circle cx="58" cy="311.5" r="2.45" fill="#fff" stroke="#7474ee" stroke-width="1.05"/>
<circle cx="56.8" cy="314" r="2.45" fill="#fff" stroke="#7474ee" stroke-width="1.05"/>
<circle cx="57.4" cy="317.2" r="2.45" fill="#fff" stroke="#7474ee" stroke-width="1.05"/>
<circle cx="54.3" cy="322.9" r="2.45" fill="#fff" stroke="#7474ee" stroke-width="1.05"/>
<circle cx="59.9" cy="322.9" r="2.45" fill="#fff" stroke="#7474ee" stroke-width="1.05"/>
<circle cx="47.3" cy="326.7" r="2.45" fill="#fff" stroke="#7474ee" stroke-width="1.05"/>
<circle cx="51.1" cy="328.6" r="2.45" fill="#fff" stroke="#7474ee" stroke-width="1.05"/>
<circle cx="55.5" cy="326" r="2.45" fill="#fff" stroke="#7474ee" stroke-width="1.05"/>
<circle cx="59.3" cy="328.6" r="2.45" fill="#fff" stroke="#7474ee" stroke-width="1.05"/>
<circle cx="64.4" cy="326.7" r="2.45" fill="#fff" stroke="#7474ee" stroke-width="1.05"/>
<circle cx="66.9" cy="331.1" r="2.45" fill="#fff" stroke="#7474ee" stroke-width="1.05"/>
<circle cx="50.5" cy="331.1" r="2.45" fill="#fff" stroke="#7474ee" stroke-width="1.05"/>
<circle cx="54.9" cy="331.1" r="2.45" fill="#fff" stroke="#7474ee" stroke-width="1.05"/>
<circle cx="58.7" cy="332.3" r="2.45" fill="#fff" stroke="#7474ee" stroke-width="1.05"/>
<circle cx="53" cy="335.5" r="2.45" fill="#fff" stroke="#7474ee" stroke-width="1.05"/>
<circle cx="56.8" cy="334.9" r="2.45" fill="#fff" stroke="#7474ee" stroke-width="1.05"/>
<circle cx="60.6" cy="336.1" r="2.45" fill="#fff" stroke="#7474ee" stroke-width="1.05"/>
<circle cx="63.1" cy="327.9" r="2.45" fill="#fff" stroke="#7474ee" stroke-width="1.05"/>
<path d="M84.25 294.4H89.95L87.1 299.2Z" fill="#fff" stroke="#7c7cee" stroke-width="1.05" stroke-linejoin="miter"/>
<path d="M84.25 300.7H89.95L87.1 305.5Z" fill="#fff" stroke="#7c7cee" stroke-width="1.05" stroke-linejoin="miter"/>
<path d="M79.85 307.6H85.55L82.7 312.4Z" fill="#fff" stroke="#7c7cee" stroke-width="1.05" stroke-linejoin="miter"/>
<path d="M84.85 307.6H90.55L87.7 312.4Z" fill="#fff" stroke="#7c7cee" stroke-width="1.05" stroke-linejoin="miter"/>
<path d="M89.95 307.6H95.65L92.8 312.4Z" fill="#fff" stroke="#7c7cee" stroke-width="1.05" stroke-linejoin="miter"/>
<path d="M74.75 311.4H80.45L77.6 316.2Z" fill="#fff" stroke="#7c7cee" stroke-width="1.05" stroke-linejoin="miter"/>
<path d="M81.75 310.1H87.45L84.6 314.9Z" fill="#fff" stroke="#7c7cee" stroke-width="1.05" stroke-linejoin="miter"/>
<path d="M87.35 310.8H93.05L90.2 315.6Z" fill="#fff" stroke="#7c7cee" stroke-width="1.05" stroke-linejoin="miter"/>
<path d="M93.75 310.8H99.45L96.6 315.6Z" fill="#fff" stroke="#7c7cee" stroke-width="1.05" stroke-linejoin="miter"/>
<path d="M76.05 315.8H81.75L78.9 320.6Z" fill="#fff" stroke="#7c7cee" stroke-width="1.05" stroke-linejoin="miter"/>
<path d="M81.05 314.6H86.75L83.9 319.4Z" fill="#fff" stroke="#7c7cee" stroke-width="1.05" stroke-linejoin="miter"/>
<path d="M86.75 314.6H92.45L89.6 319.4Z" fill="#fff" stroke="#7c7cee" stroke-width="1.05" stroke-linejoin="miter"/>
<path d="M91.15 315.2H96.85L94 320Z" fill="#fff" stroke="#7c7cee" stroke-width="1.05" stroke-linejoin="miter"/>
<path d="M95.55 314.6H101.25L98.4 319.4Z" fill="#fff" stroke="#7c7cee" stroke-width="1.05" stroke-linejoin="miter"/>
<path d="M74.15 320.2H79.85L77 325Z" fill="#fff" stroke="#7c7cee" stroke-width="1.05" stroke-linejoin="miter"/>
<path d="M79.15 319.6H84.85L82 324.4Z" fill="#fff" stroke="#7c7cee" stroke-width="1.05" stroke-linejoin="miter"/>
<path d="M94.35 319.6H100.05L97.2 324.4Z" fill="#fff" stroke="#7c7cee" stroke-width="1.05" stroke-linejoin="miter"/>
<path d="M76.05 324.7H81.75L78.9 329.5Z" fill="#fff" stroke="#7c7cee" stroke-width="1.05" stroke-linejoin="miter"/>
<path d="M81.75 324H87.45L84.6 328.8Z" fill="#fff" stroke="#7c7cee" stroke-width="1.05" stroke-linejoin="miter"/>
<path d="M87.35 324H93.05L90.2 328.8Z" fill="#fff" stroke="#7c7cee" stroke-width="1.05" stroke-linejoin="miter"/>
<path d="M92.45 324.7H98.15L95.3 329.5Z" fill="#fff" stroke="#7c7cee" stroke-width="1.05" stroke-linejoin="miter"/>
<path d="M78.55 329.7H84.25L81.4 334.5Z" fill="#fff" stroke="#7c7cee" stroke-width="1.05" stroke-linejoin="miter"/>
<path d="M83.65 329.1H89.35L86.5 333.9Z" fill="#fff" stroke="#7c7cee" stroke-width="1.05" stroke-linejoin="miter"/>
<path d="M88.65 329.7H94.35L91.5 334.5Z" fill="#fff" stroke="#7c7cee" stroke-width="1.05" stroke-linejoin="miter"/>
<path d="M94.35 328.5H100.05L97.2 333.3Z" fill="#fff" stroke="#7c7cee" stroke-width="1.05" stroke-linejoin="miter"/>
<path d="M85.45 333.5H91.15L88.3 338.3Z" fill="#fff" stroke="#7c7cee" stroke-width="1.05" stroke-linejoin="miter"/>
<path d="M84.75 339.5H90.45L87.6 344.3Z" fill="#fff" stroke="#7c7cee" stroke-width="1.05" stroke-linejoin="miter"/>
<circle cx="118.1" cy="324.6" r="2.45" fill="#fff" stroke="#f08e8e" stroke-width="1.05"/>
<circle cx="114.9" cy="331" r="2.45" fill="#fff" stroke="#f08e8e" stroke-width="1.05"/>
<circle cx="121.3" cy="331.5" r="2.45" fill="#fff" stroke="#f08e8e" stroke-width="1.05"/>
<circle cx="118.1" cy="334.2" r="2.45" fill="#fff" stroke="#f08e8e" stroke-width="1.05"/>
<circle cx="108" cy="338.8" r="2.45" fill="#fff" stroke="#f08e8e" stroke-width="1.05"/>
<circle cx="124.6" cy="337.9" r="2.45" fill="#fff" stroke="#f08e8e" stroke-width="1.05"/>
<circle cx="128.2" cy="339.7" r="2.45" fill="#fff" stroke="#f08e8e" stroke-width="1.05"/>
<circle cx="111.7" cy="342" r="2.45" fill="#fff" stroke="#f08e8e" stroke-width="1.05"/>
<circle cx="115.4" cy="343.4" r="2.45" fill="#fff" stroke="#f08e8e" stroke-width="1.05"/>
<circle cx="124.1" cy="342.9" r="2.45" fill="#fff" stroke="#f08e8e" stroke-width="1.05"/>
<circle cx="108.5" cy="345.2" r="2.45" fill="#fff" stroke="#f08e8e" stroke-width="1.05"/>
<circle cx="121.3" cy="346.6" r="2.45" fill="#fff" stroke="#f08e8e" stroke-width="1.05"/>
<circle cx="127.8" cy="346.6" r="2.45" fill="#fff" stroke="#f08e8e" stroke-width="1.05"/>
<path d="M140.55 334.1H146.25L143.4 338.9Z" fill="#fff" stroke="#f29494" stroke-width="1.05" stroke-linejoin="miter"/>
<path d="M143.75 335H149.45L146.6 339.8Z" fill="#fff" stroke="#f29494" stroke-width="1.05" stroke-linejoin="miter"/>
<path d="M148.75 335.4H154.45L151.6 340.2Z" fill="#fff" stroke="#f29494" stroke-width="1.05" stroke-linejoin="miter"/>
<path d="M153.85 334.1H159.55L156.7 338.9Z" fill="#fff" stroke="#f29494" stroke-width="1.05" stroke-linejoin="miter"/>
<path d="M135.45 339.1H141.15L138.3 343.9Z" fill="#fff" stroke="#f29494" stroke-width="1.05" stroke-linejoin="miter"/>
<path d="M139.15 339.6H144.85L142 344.4Z" fill="#fff" stroke="#f29494" stroke-width="1.05" stroke-linejoin="miter"/>
<path d="M151.05 338.2H156.75L153.9 343Z" fill="#fff" stroke="#f29494" stroke-width="1.05" stroke-linejoin="miter"/>
<path d="M156.15 338.6H161.85L159 343.4Z" fill="#fff" stroke="#f29494" stroke-width="1.05" stroke-linejoin="miter"/>
<path d="M140.95 344.6H146.65L143.8 349.4Z" fill="#fff" stroke="#f29494" stroke-width="1.05" stroke-linejoin="miter"/>
<path d="M145.15 345.5H150.85L148 350.3Z" fill="#fff" stroke="#f29494" stroke-width="1.05" stroke-linejoin="miter"/>
<path d="M148.75 346.4H154.45L151.6 351.2Z" fill="#fff" stroke="#f29494" stroke-width="1.05" stroke-linejoin="miter"/>
<path d="M153.35 344.6H159.05L156.2 349.4Z" fill="#fff" stroke="#f29494" stroke-width="1.05" stroke-linejoin="miter"/>
<path d="M143.25 351H148.95L146.1 355.8Z" fill="#fff" stroke="#f29494" stroke-width="1.05" stroke-linejoin="miter"/>
<path d="M147.85 349.2H153.55L150.7 354Z" fill="#fff" stroke="#f29494" stroke-width="1.05" stroke-linejoin="miter"/>
<path d="M56.6 320.4V325.4" stroke="#1010c8" stroke-width="1.2" fill="none"/>
<path d="M53.7 320.4H59.5M53.7 325.4H59.5" stroke="#1010c8" stroke-width="1.5" fill="none"/>
<path d="M87.3 319.1V324.1" stroke="#1010c8" stroke-width="1.2" fill="none"/>
<path d="M84.4 319.1H90.2M84.4 324.1H90.2" stroke="#1010c8" stroke-width="1.5" fill="none"/>
<path d="M118 337V340.6" stroke="#d01010" stroke-width="1.2" fill="none"/>
<path d="M115.1 337H120.9M115.1 340.6H120.9" stroke="#d01010" stroke-width="1.5" fill="none"/>
<path d="M148.7 341.9V344.9" stroke="#d01010" stroke-width="1.2" fill="none"/>
<path d="M145.8 341.9H151.6M145.8 344.9H151.6" stroke="#d01010" stroke-width="1.5" fill="none"/>
<path d="M75.1 282.8V266H132.3V315.2M60.6 282.8H89.5M119.5 315.2H144.9" stroke="#111" stroke-width="1.2" fill="none"/>
<text x="103.8" y="261.5" text-anchor="middle" font-size="12.5" font-weight="bold" font-style="italic" stroke="#000" stroke-width="0.25">####</text>
<path d="M42.1 397.7H164.4" stroke="#111" stroke-width="1.4"/>
<text x="23.4" y="404.9" font-size="6.6" font-weight="bold">ND</text>
<path d="M54.25 402.9H58.95M56.6 400.6V405.2" stroke="#111" stroke-width="1.25"/>
<path d="M84.95 402.9H89.65M87.3 400.6V405.2" stroke="#111" stroke-width="1.25"/>
<path d="M115.55 402.9H120.45" stroke="#111" stroke-width="1.25"/>
<path d="M146.25 402.9H151.15" stroke="#111" stroke-width="1.25"/>
<text x="23.4" y="413.4" font-size="6.6" font-weight="bold">D</text>
<path d="M54.15 411.4H59.05" stroke="#111" stroke-width="1.25"/>
<path d="M84.85 411.4H89.75" stroke="#111" stroke-width="1.25"/>
<path d="M115.65 411.4H120.35M118 409.1V413.7" stroke="#111" stroke-width="1.25"/>
<path d="M146.35 411.4H151.05M148.7 409.1V413.7" stroke="#111" stroke-width="1.25"/>
<text x="23.4" y="422" font-size="6.6" font-weight="bold">Veh</text>
<path d="M54.25 420H58.95M56.6 417.7V422.3" stroke="#111" stroke-width="1.25"/>
<path d="M84.85 420H89.75" stroke="#111" stroke-width="1.25"/>
<path d="M115.65 420H120.35M118 417.7V422.3" stroke="#111" stroke-width="1.25"/>
<path d="M146.25 420H151.15" stroke="#111" stroke-width="1.25"/>
<text x="23.4" y="430.5" font-size="6.6" font-weight="bold">LXA<tspan font-size="4.2" dy="1">4</tspan></text>
<path d="M54.15 428.5H59.05" stroke="#111" stroke-width="1.25"/>
<path d="M84.95 428.5H89.65M87.3 426.2V430.8" stroke="#111" stroke-width="1.25"/>
<path d="M115.55 428.5H120.45" stroke="#111" stroke-width="1.25"/>
<path d="M146.35 428.5H151.05M148.7 426.2V430.8" stroke="#111" stroke-width="1.25"/>
<text x="276.9" y="253" font-size="16.3" font-weight="bold">F</text>
<text transform="translate(262,325) rotate(-90)" text-anchor="middle" font-size="11.75" font-weight="bold">RV:Tibia (mg/mm)</text>
<path d="M289 267V390.1" stroke="#111" stroke-width="1.3" fill="none"/>
<path d="M285.2 389.5H289" stroke="#111" stroke-width="1.2"/>
<text x="284.4" y="393.8" text-anchor="end" font-size="12.2" font-weight="bold">0.00</text>
<path d="M285.2 359.02H289" stroke="#111" stroke-width="1.2"/>
<text x="284.4" y="363.32" text-anchor="end" font-size="12.2" font-weight="bold">0.75</text>
<path d="M285.2 328.55H289" stroke="#111" stroke-width="1.2"/>
<text x="284.4" y="332.85" text-anchor="end" font-size="12.2" font-weight="bold">1.50</text>
<path d="M285.2 298.08H289" stroke="#111" stroke-width="1.2"/>
<text x="284.4" y="302.38" text-anchor="end" font-size="12.2" font-weight="bold">2.25</text>
<path d="M285.2 267.6H289" stroke="#111" stroke-width="1.2"/>
<text x="284.4" y="271.9" text-anchor="end" font-size="12.2" font-weight="bold">3.00</text>
<path d="M290 389.5H421.1" stroke="#666" stroke-width="1" stroke-dasharray="1 2"/>
<rect x="301.2" y="320.5" width="22.6" height="68.7" fill="#fff" stroke="#1414dc" stroke-width="1.45"/>
<rect x="331.9" y="326.9" width="22.6" height="62.3" fill="#fff" stroke="#5252e6" stroke-width="1.45"/>
<rect x="362.6" y="341.2" width="22.6" height="48" fill="#fff" stroke="#dc1e1e" stroke-width="1.45"/>
<rect x="393.3" y="346.9" width="22.6" height="42.3" fill="#fff" stroke="#e23c3c" stroke-width="1.45"/>
<circle cx="312.1" cy="296.2" r="2.45" fill="#fff" stroke="#7474ee" stroke-width="1.05"/>
<circle cx="308.7" cy="299.6" r="2.45" fill="#fff" stroke="#7474ee" stroke-width="1.05"/>
<circle cx="316.2" cy="299.6" r="2.45" fill="#fff" stroke="#7474ee" stroke-width="1.05"/>
<circle cx="307.3" cy="303.1" r="2.45" fill="#fff" stroke="#7474ee" stroke-width="1.05"/>
<circle cx="312.8" cy="303.1" r="2.45" fill="#fff" stroke="#7474ee" stroke-width="1.05"/>
<circle cx="317.6" cy="303.7" r="2.45" fill="#fff" stroke="#7474ee" stroke-width="1.05"/>
<circle cx="308" cy="307.2" r="2.45" fill="#fff" stroke="#7474ee" stroke-width="1.05"/>
<circle cx="313.5" cy="307.9" r="2.45" fill="#fff" stroke="#7474ee" stroke-width="1.05"/>
<circle cx="317.6" cy="307.2" r="2.45" fill="#fff" stroke="#7474ee" stroke-width="1.05"/>
<circle cx="310.1" cy="312" r="2.45" fill="#fff" stroke="#7474ee" stroke-width="1.05"/>
<circle cx="314.9" cy="312" r="2.45" fill="#fff" stroke="#7474ee" stroke-width="1.05"/>
<circle cx="317.6" cy="316.1" r="2.45" fill="#fff" stroke="#7474ee" stroke-width="1.05"/>
<circle cx="302.5" cy="325.1" r="2.45" fill="#fff" stroke="#7474ee" stroke-width="1.05"/>
<circle cx="307.3" cy="325.1" r="2.45" fill="#fff" stroke="#7474ee" stroke-width="1.05"/>
<circle cx="312.8" cy="326.4" r="2.45" fill="#fff" stroke="#7474ee" stroke-width="1.05"/>
<circle cx="319" cy="325.1" r="2.45" fill="#fff" stroke="#7474ee" stroke-width="1.05"/>
<circle cx="322.4" cy="324.4" r="2.45" fill="#fff" stroke="#7474ee" stroke-width="1.05"/>
<circle cx="310.7" cy="329.9" r="2.45" fill="#fff" stroke="#7474ee" stroke-width="1.05"/>
<circle cx="314.9" cy="327.8" r="2.45" fill="#fff" stroke="#7474ee" stroke-width="1.05"/>
<circle cx="318.3" cy="328.5" r="2.45" fill="#fff" stroke="#7474ee" stroke-width="1.05"/>
<circle cx="313.2" cy="331.8" r="2.45" fill="#fff" stroke="#7474ee" stroke-width="1.05"/>
<circle cx="314" cy="335.4" r="2.45" fill="#fff" stroke="#7474ee" stroke-width="1.05"/>
<circle cx="313.2" cy="338.1" r="2.45" fill="#fff" stroke="#7474ee" stroke-width="1.05"/>
<circle cx="312.3" cy="341.7" r="2.45" fill="#fff" stroke="#7474ee" stroke-width="1.05"/>
<circle cx="312.3" cy="351.5" r="2.45" fill="#fff" stroke="#7474ee" stroke-width="1.05"/>
<path d="M335.35 303.1H341.05L338.2 307.9Z" fill="#fff" stroke="#7c7cee" stroke-width="1.05" stroke-linejoin="miter"/>
<path d="M341.55 301.7H347.25L344.4 306.5Z" fill="#fff" stroke="#7c7cee" stroke-width="1.05" stroke-linejoin="miter"/>
<path d="M346.35 302.4H352.05L349.2 307.2Z" fill="#fff" stroke="#7c7cee" stroke-width="1.05" stroke-linejoin="miter"/>
<path d="M334.05 309.3H339.75L336.9 314.1Z" fill="#fff" stroke="#7c7cee" stroke-width="1.05" stroke-linejoin="miter"/>
<path d="M339.55 308.6H345.25L342.4 313.4Z" fill="#fff" stroke="#7c7cee" stroke-width="1.05" stroke-linejoin="miter"/>
<path d="M345.75 307.9H351.45L348.6 312.7Z" fill="#fff" stroke="#7c7cee" stroke-width="1.05" stroke-linejoin="miter"/>
<path d="M329.85 314.1H335.55L332.7 318.9Z" fill="#fff" stroke="#7c7cee" stroke-width="1.05" stroke-linejoin="miter"/>
<path d="M335.35 313.4H341.05L338.2 318.2Z" fill="#fff" stroke="#7c7cee" stroke-width="1.05" stroke-linejoin="miter"/>
<path d="M340.85 314.8H346.55L343.7 319.6Z" fill="#fff" stroke="#7c7cee" stroke-width="1.05" stroke-linejoin="miter"/>
<path d="M346.35 314.1H352.05L349.2 318.9Z" fill="#fff" stroke="#7c7cee" stroke-width="1.05" stroke-linejoin="miter"/>
<path d="M350.55 317.6H356.25L353.4 322.4Z" fill="#fff" stroke="#7c7cee" stroke-width="1.05" stroke-linejoin="miter"/>
<path d="M329.25 320.3H334.95L332.1 325.1Z" fill="#fff" stroke="#7c7cee" stroke-width="1.05" stroke-linejoin="miter"/>
<path d="M334.05 321H339.75L336.9 325.8Z" fill="#fff" stroke="#7c7cee" stroke-width="1.05" stroke-linejoin="miter"/>
<path d="M338.15 318.9H343.85L341 323.7Z" fill="#fff" stroke="#7c7cee" stroke-width="1.05" stroke-linejoin="miter"/>
<path d="M345.05 320.3H350.75L347.9 325.1Z" fill="#fff" stroke="#7c7cee" stroke-width="1.05" stroke-linejoin="miter"/>
<path d="M349.85 321H355.55L352.7 325.8Z" fill="#fff" stroke="#7c7cee" stroke-width="1.05" stroke-linejoin="miter"/>
<path d="M329.85 332H335.55L332.7 336.8Z" fill="#fff" stroke="#7c7cee" stroke-width="1.05" stroke-linejoin="miter"/>
<path d="M334.75 332.7H340.45L337.6 337.5Z" fill="#fff" stroke="#7c7cee" stroke-width="1.05" stroke-linejoin="miter"/>
<path d="M339.55 332H345.25L342.4 336.8Z" fill="#fff" stroke="#7c7cee" stroke-width="1.05" stroke-linejoin="miter"/>
<path d="M343.65 332.7H349.35L346.5 337.5Z" fill="#fff" stroke="#7c7cee" stroke-width="1.05" stroke-linejoin="miter"/>
<path d="M347.75 331.3H353.45L350.6 336.1Z" fill="#fff" stroke="#7c7cee" stroke-width="1.05" stroke-linejoin="miter"/>
<path d="M351.25 332H356.95L354.1 336.8Z" fill="#fff" stroke="#7c7cee" stroke-width="1.05" stroke-linejoin="miter"/>
<path d="M334.05 338.9H339.75L336.9 343.7Z" fill="#fff" stroke="#7c7cee" stroke-width="1.05" stroke-linejoin="miter"/>
<path d="M340.85 339.6H346.55L343.7 344.4Z" fill="#fff" stroke="#7c7cee" stroke-width="1.05" stroke-linejoin="miter"/>
<path d="M346.35 336.1H352.05L349.2 340.9Z" fill="#fff" stroke="#7c7cee" stroke-width="1.05" stroke-linejoin="miter"/>
<path d="M338.15 352.2H343.85L341 357Z" fill="#fff" stroke="#7c7cee" stroke-width="1.05" stroke-linejoin="miter"/>
<path d="M341.75 348.6H347.45L344.6 353.4Z" fill="#fff" stroke="#7c7cee" stroke-width="1.05" stroke-linejoin="miter"/>
<circle cx="373.8" cy="319.5" r="2.45" fill="#fff" stroke="#f08e8e" stroke-width="1.05"/>
<circle cx="373.8" cy="325.8" r="2.45" fill="#fff" stroke="#f08e8e" stroke-width="1.05"/>
<circle cx="363.7" cy="334" r="2.45" fill="#fff" stroke="#f08e8e" stroke-width="1.05"/>
<circle cx="368.1" cy="332.7" r="2.45" fill="#fff" stroke="#f08e8e" stroke-width="1.05"/>
<circle cx="378.8" cy="336.5" r="2.45" fill="#fff" stroke="#f08e8e" stroke-width="1.05"/>
<circle cx="383.9" cy="333.4" r="2.45" fill="#fff" stroke="#f08e8e" stroke-width="1.05"/>
<circle cx="371.9" cy="336.5" r="2.45" fill="#fff" stroke="#f08e8e" stroke-width="1.05"/>
<circle cx="368.1" cy="347.9" r="2.45" fill="#fff" stroke="#f08e8e" stroke-width="1.05"/>
<circle cx="375.7" cy="347.2" r="2.45" fill="#fff" stroke="#f08e8e" stroke-width="1.05"/>
<circle cx="371.3" cy="352.9" r="2.45" fill="#fff" stroke="#f08e8e" stroke-width="1.05"/>
<circle cx="375.7" cy="354.2" r="2.45" fill="#fff" stroke="#f08e8e" stroke-width="1.05"/>
<circle cx="380.1" cy="353.6" r="2.45" fill="#fff" stroke="#f08e8e" stroke-width="1.05"/>
<circle cx="368.1" cy="356.7" r="2.45" fill="#fff" stroke="#f08e8e" stroke-width="1.05"/>
<path d="M391.75 333.9H397.45L394.6 338.7Z" fill="#fff" stroke="#f29494" stroke-width="1.05" stroke-linejoin="miter"/>
<path d="M398.75 333.9H404.45L401.6 338.7Z" fill="#fff" stroke="#f29494" stroke-width="1.05" stroke-linejoin="miter"/>
<path d="M403.75 332.6H409.45L406.6 337.4Z" fill="#fff" stroke="#f29494" stroke-width="1.05" stroke-linejoin="miter"/>
<path d="M408.15 336.4H413.85L411 341.2Z" fill="#fff" stroke="#f29494" stroke-width="1.05" stroke-linejoin="miter"/>
<path d="M411.95 338.3H417.65L414.8 343.1Z" fill="#fff" stroke="#f29494" stroke-width="1.05" stroke-linejoin="miter"/>
<path d="M391.75 338.3H397.45L394.6 343.1Z" fill="#fff" stroke="#f29494" stroke-width="1.05" stroke-linejoin="miter"/>
<path d="M395.55 338.9H401.25L398.4 343.7Z" fill="#fff" stroke="#f29494" stroke-width="1.05" stroke-linejoin="miter"/>
<path d="M400.65 337.7H406.35L403.5 342.5Z" fill="#fff" stroke="#f29494" stroke-width="1.05" stroke-linejoin="miter"/>
<path d="M405.05 338.3H410.75L407.9 343.1Z" fill="#fff" stroke="#f29494" stroke-width="1.05" stroke-linejoin="miter"/>
<path d="M410.75 339.6H416.45L413.6 344.4Z" fill="#fff" stroke="#f29494" stroke-width="1.05" stroke-linejoin="miter"/>
<path d="M396.15 348.4H401.85L399 353.2Z" fill="#fff" stroke="#f29494" stroke-width="1.05" stroke-linejoin="miter"/>
<path d="M408.15 347.8H413.85L411 352.6Z" fill="#fff" stroke="#f29494" stroke-width="1.05" stroke-linejoin="miter"/>
<path d="M399.95 352.2H405.65L402.8 357Z" fill="#fff" stroke="#f29494" stroke-width="1.05" stroke-linejoin="miter"/>
<path d="M406.95 354.1H412.65L409.8 358.9Z" fill="#fff" stroke="#f29494" stroke-width="1.05" stroke-linejoin="miter"/>
<path d="M395.55 357.9H401.25L398.4 362.7Z" fill="#fff" stroke="#f29494" stroke-width="1.05" stroke-linejoin="miter"/>
<path d="M403.15 357.2H408.85L406 362Z" fill="#fff" stroke="#f29494" stroke-width="1.05" stroke-linejoin="miter"/>
<path d="M312.5 317.1V322.1" stroke="#1010c8" stroke-width="1.2" fill="none"/>
<path d="M309.6 317.1H315.4M309.6 322.1H315.4" stroke="#1010c8" stroke-width="1.5" fill="none"/>
<path d="M343.2 323.5V328.5" stroke="#1010c8" stroke-width="1.2" fill="none"/>
<path d="M340.3 323.5H346.1M340.3 328.5H346.1" stroke="#1010c8" stroke-width="1.5" fill="none"/>
<path d="M373.9 337.8V342.8" stroke="#d01010" stroke-width="1.2" fill="none"/>
<path d="M371 337.8H376.8M371 342.8H376.8" stroke="#d01010" stroke-width="1.5" fill="none"/>
<path d="M404.6 344.5V347.5" stroke="#d01010" stroke-width="1.2" fill="none"/>
<path d="M401.7 344.5H407.5M401.7 347.5H407.5" stroke="#d01010" stroke-width="1.5" fill="none"/>
<path d="M331.1 282.8V266H388.3V309M316.7 282.8H345.2M375.5 309H400.7" stroke="#111" stroke-width="1.2" fill="none"/>
<text x="359.4" y="261.5" text-anchor="middle" font-size="12.5" font-weight="bold" font-style="italic" stroke="#000" stroke-width="0.25">####</text>
<path d="M297 397.7H420.5" stroke="#111" stroke-width="1.4"/>
<text x="278.4" y="404.9" font-size="6.6" font-weight="bold">ND</text>
<path d="M308.95 402.9H313.65M311.3 400.6V405.2" stroke="#111" stroke-width="1.25"/>
<path d="M339.65 402.9H344.35M342 400.6V405.2" stroke="#111" stroke-width="1.25"/>
<path d="M370.25 402.9H375.15" stroke="#111" stroke-width="1.25"/>
<path d="M400.95 402.9H405.85" stroke="#111" stroke-width="1.25"/>
<text x="278.4" y="413.4" font-size="6.6" font-weight="bold">D</text>
<path d="M308.85 411.4H313.75" stroke="#111" stroke-width="1.25"/>
<path d="M339.55 411.4H344.45" stroke="#111" stroke-width="1.25"/>
<path d="M370.35 411.4H375.05M372.7 409.1V413.7" stroke="#111" stroke-width="1.25"/>
<path d="M401.05 411.4H405.75M403.4 409.1V413.7" stroke="#111" stroke-width="1.25"/>
<text x="278.4" y="422" font-size="6.6" font-weight="bold">Veh</text>
<path d="M308.95 420H313.65M311.3 417.7V422.3" stroke="#111" stroke-width="1.25"/>
<path d="M339.55 420H344.45" stroke="#111" stroke-width="1.25"/>
<path d="M370.35 420H375.05M372.7 417.7V422.3" stroke="#111" stroke-width="1.25"/>
<path d="M400.95 420H405.85" stroke="#111" stroke-width="1.25"/>
<text x="278.4" y="430.5" font-size="6.6" font-weight="bold">LXA<tspan font-size="4.2" dy="1">4</tspan></text>
<path d="M308.85 428.5H313.75" stroke="#111" stroke-width="1.25"/>
<path d="M339.65 428.5H344.35M342 426.2V430.8" stroke="#111" stroke-width="1.25"/>
<path d="M370.25 428.5H375.15" stroke="#111" stroke-width="1.25"/>
<path d="M401.05 428.5H405.75M403.4 426.2V430.8" stroke="#111" stroke-width="1.25"/>
<text x="532.6" y="253" font-size="16.3" font-weight="bold">G</text>
<text transform="translate(518.7,325.4) rotate(-90)" text-anchor="middle" font-size="11.6" font-weight="bold">Atria:Tibia (mg/mm)</text>
<path d="M540 267V390.1" stroke="#111" stroke-width="1.3" fill="none"/>
<path d="M536.2 389.5H540" stroke="#111" stroke-width="1.2"/>
<text x="535.4" y="393.8" text-anchor="end" font-size="12.2" font-weight="bold">0.0</text>
<path d="M536.2 359.02H540" stroke="#111" stroke-width="1.2"/>
<text x="535.4" y="363.32" text-anchor="end" font-size="12.2" font-weight="bold">0.5</text>
<path d="M536.2 328.55H540" stroke="#111" stroke-width="1.2"/>
<text x="535.4" y="332.85" text-anchor="end" font-size="12.2" font-weight="bold">1.0</text>
<path d="M536.2 298.08H540" stroke="#111" stroke-width="1.2"/>
<text x="535.4" y="302.38" text-anchor="end" font-size="12.2" font-weight="bold">1.5</text>
<path d="M536.2 267.6H540" stroke="#111" stroke-width="1.2"/>
<text x="535.4" y="271.9" text-anchor="end" font-size="12.2" font-weight="bold">2.0</text>
<path d="M541 389.5H671.8" stroke="#666" stroke-width="1" stroke-dasharray="1 2"/>
<rect x="551.9" y="352.4" width="22.6" height="36.8" fill="#fff" stroke="#1414dc" stroke-width="1.45"/>
<rect x="582.6" y="350.9" width="22.6" height="38.3" fill="#fff" stroke="#5252e6" stroke-width="1.45"/>
<rect x="613.3" y="366.7" width="22.6" height="22.5" fill="#fff" stroke="#dc1e1e" stroke-width="1.45"/>
<rect x="644" y="366.2" width="22.6" height="23" fill="#fff" stroke="#e23c3c" stroke-width="1.45"/>
<circle cx="559.9" cy="320.2" r="2.45" fill="#fff" stroke="#7474ee" stroke-width="1.05"/>
<circle cx="563.6" cy="318" r="2.45" fill="#fff" stroke="#7474ee" stroke-width="1.05"/>
<circle cx="566.6" cy="321" r="2.45" fill="#fff" stroke="#7474ee" stroke-width="1.05"/>
<circle cx="559.9" cy="337.4" r="2.45" fill="#fff" stroke="#7474ee" stroke-width="1.05"/>
<circle cx="563.6" cy="339.6" r="2.45" fill="#fff" stroke="#7474ee" stroke-width="1.05"/>
<circle cx="566.6" cy="342.6" r="2.45" fill="#fff" stroke="#7474ee" stroke-width="1.05"/>
<circle cx="573.3" cy="345.6" r="2.45" fill="#fff" stroke="#7474ee" stroke-width="1.05"/>
<circle cx="559.9" cy="347" r="2.45" fill="#fff" stroke="#7474ee" stroke-width="1.05"/>
<circle cx="554" cy="350.8" r="2.45" fill="#fff" stroke="#7474ee" stroke-width="1.05"/>
<circle cx="559.2" cy="351.5" r="2.45" fill="#fff" stroke="#7474ee" stroke-width="1.05"/>
<circle cx="567.4" cy="350.8" r="2.45" fill="#fff" stroke="#7474ee" stroke-width="1.05"/>
<circle cx="572.6" cy="351.5" r="2.45" fill="#fff" stroke="#7474ee" stroke-width="1.05"/>
<circle cx="554" cy="359" r="2.45" fill="#fff" stroke="#7474ee" stroke-width="1.05"/>
<circle cx="562.2" cy="358.2" r="2.45" fill="#fff" stroke="#7474ee" stroke-width="1.05"/>
<circle cx="573.3" cy="360.5" r="2.45" fill="#fff" stroke="#7474ee" stroke-width="1.05"/>
<circle cx="556.9" cy="363.4" r="2.45" fill="#fff" stroke="#7474ee" stroke-width="1.05"/>
<circle cx="566.6" cy="362.7" r="2.45" fill="#fff" stroke="#7474ee" stroke-width="1.05"/>
<circle cx="570.4" cy="359.7" r="2.45" fill="#fff" stroke="#7474ee" stroke-width="1.05"/>
<circle cx="559.9" cy="369.4" r="2.45" fill="#fff" stroke="#7474ee" stroke-width="1.05"/>
<circle cx="563.6" cy="367.2" r="2.45" fill="#fff" stroke="#7474ee" stroke-width="1.05"/>
<circle cx="562.9" cy="356" r="2.45" fill="#fff" stroke="#7474ee" stroke-width="1.05"/>
<path d="M589.85 327.2H595.55L592.7 332Z" fill="#fff" stroke="#7c7cee" stroke-width="1.05" stroke-linejoin="miter"/>
<path d="M589.85 331.6H595.55L592.7 336.4Z" fill="#fff" stroke="#7c7cee" stroke-width="1.05" stroke-linejoin="miter"/>
<path d="M593.55 332.4H599.25L596.4 337.2Z" fill="#fff" stroke="#7c7cee" stroke-width="1.05" stroke-linejoin="miter"/>
<path d="M589.15 336.8H594.85L592 341.6Z" fill="#fff" stroke="#7c7cee" stroke-width="1.05" stroke-linejoin="miter"/>
<path d="M594.35 337.6H600.05L597.2 342.4Z" fill="#fff" stroke="#7c7cee" stroke-width="1.05" stroke-linejoin="miter"/>
<path d="M585.35 341.3H591.05L588.2 346.1Z" fill="#fff" stroke="#7c7cee" stroke-width="1.05" stroke-linejoin="miter"/>
<path d="M589.85 340.6H595.55L592.7 345.4Z" fill="#fff" stroke="#7c7cee" stroke-width="1.05" stroke-linejoin="miter"/>
<path d="M595.85 340.6H601.55L598.7 345.4Z" fill="#fff" stroke="#7c7cee" stroke-width="1.05" stroke-linejoin="miter"/>
<path d="M580.95 348H586.65L583.8 352.8Z" fill="#fff" stroke="#7c7cee" stroke-width="1.05" stroke-linejoin="miter"/>
<path d="M585.35 347.3H591.05L588.2 352.1Z" fill="#fff" stroke="#7c7cee" stroke-width="1.05" stroke-linejoin="miter"/>
<path d="M598.85 347.3H604.55L601.7 352.1Z" fill="#fff" stroke="#7c7cee" stroke-width="1.05" stroke-linejoin="miter"/>
<path d="M601.75 348H607.45L604.6 352.8Z" fill="#fff" stroke="#7c7cee" stroke-width="1.05" stroke-linejoin="miter"/>
<path d="M583.85 351.7H589.55L586.7 356.5Z" fill="#fff" stroke="#7c7cee" stroke-width="1.05" stroke-linejoin="miter"/>
<path d="M589.15 352.5H594.85L592 357.3Z" fill="#fff" stroke="#7c7cee" stroke-width="1.05" stroke-linejoin="miter"/>
<path d="M594.35 351.7H600.05L597.2 356.5Z" fill="#fff" stroke="#7c7cee" stroke-width="1.05" stroke-linejoin="miter"/>
<path d="M598.85 351H604.55L601.7 355.8Z" fill="#fff" stroke="#7c7cee" stroke-width="1.05" stroke-linejoin="miter"/>
<path d="M585.35 357H591.05L588.2 361.8Z" fill="#fff" stroke="#7c7cee" stroke-width="1.05" stroke-linejoin="miter"/>
<path d="M590.65 357.7H596.35L593.5 362.5Z" fill="#fff" stroke="#7c7cee" stroke-width="1.05" stroke-linejoin="miter"/>
<path d="M595.05 356.2H600.75L597.9 361Z" fill="#fff" stroke="#7c7cee" stroke-width="1.05" stroke-linejoin="miter"/>
<path d="M586.85 362.2H592.55L589.7 367Z" fill="#fff" stroke="#7c7cee" stroke-width="1.05" stroke-linejoin="miter"/>
<path d="M592.85 361.4H598.55L595.7 366.2Z" fill="#fff" stroke="#7c7cee" stroke-width="1.05" stroke-linejoin="miter"/>
<path d="M596.55 360H602.25L599.4 364.8Z" fill="#fff" stroke="#7c7cee" stroke-width="1.05" stroke-linejoin="miter"/>
<path d="M586.15 365.2H591.85L589 370Z" fill="#fff" stroke="#7c7cee" stroke-width="1.05" stroke-linejoin="miter"/>
<circle cx="622.9" cy="349.3" r="2.45" fill="#fff" stroke="#f08e8e" stroke-width="1.05"/>
<circle cx="626.5" cy="349.3" r="2.45" fill="#fff" stroke="#f08e8e" stroke-width="1.05"/>
<circle cx="614.7" cy="363.7" r="2.45" fill="#fff" stroke="#f08e8e" stroke-width="1.05"/>
<circle cx="618.3" cy="363.2" r="2.45" fill="#fff" stroke="#f08e8e" stroke-width="1.05"/>
<circle cx="624.5" cy="362.2" r="2.45" fill="#fff" stroke="#f08e8e" stroke-width="1.05"/>
<circle cx="631.2" cy="364.3" r="2.45" fill="#fff" stroke="#f08e8e" stroke-width="1.05"/>
<circle cx="634.3" cy="363.2" r="2.45" fill="#fff" stroke="#f08e8e" stroke-width="1.05"/>
<circle cx="621.4" cy="367.3" r="2.45" fill="#fff" stroke="#f08e8e" stroke-width="1.05"/>
<circle cx="628.1" cy="367.3" r="2.45" fill="#fff" stroke="#f08e8e" stroke-width="1.05"/>
<circle cx="617.8" cy="371" r="2.45" fill="#fff" stroke="#f08e8e" stroke-width="1.05"/>
<circle cx="624.5" cy="372" r="2.45" fill="#fff" stroke="#f08e8e" stroke-width="1.05"/>
<circle cx="621.4" cy="375.6" r="2.45" fill="#fff" stroke="#f08e8e" stroke-width="1.05"/>
<circle cx="628.1" cy="376.1" r="2.45" fill="#fff" stroke="#f08e8e" stroke-width="1.05"/>
<circle cx="631.2" cy="374.6" r="2.45" fill="#fff" stroke="#f08e8e" stroke-width="1.05"/>
<circle cx="624.5" cy="381.3" r="2.45" fill="#fff" stroke="#f08e8e" stroke-width="1.05"/>
<path d="M652.55 347.8H658.25L655.4 352.6Z" fill="#fff" stroke="#f29494" stroke-width="1.05" stroke-linejoin="miter"/>
<path d="M648.95 353.5H654.65L651.8 358.3Z" fill="#fff" stroke="#f29494" stroke-width="1.05" stroke-linejoin="miter"/>
<path d="M656.15 353.5H661.85L659 358.3Z" fill="#fff" stroke="#f29494" stroke-width="1.05" stroke-linejoin="miter"/>
<path d="M659.25 357.1H664.95L662.1 361.9Z" fill="#fff" stroke="#f29494" stroke-width="1.05" stroke-linejoin="miter"/>
<path d="M648.45 359.7H654.15L651.3 364.5Z" fill="#fff" stroke="#f29494" stroke-width="1.05" stroke-linejoin="miter"/>
<path d="M654.65 360.2H660.35L657.5 365Z" fill="#fff" stroke="#f29494" stroke-width="1.05" stroke-linejoin="miter"/>
<path d="M641.75 364.3H647.45L644.6 369.1Z" fill="#fff" stroke="#f29494" stroke-width="1.05" stroke-linejoin="miter"/>
<path d="M645.85 364.8H651.55L648.7 369.6Z" fill="#fff" stroke="#f29494" stroke-width="1.05" stroke-linejoin="miter"/>
<path d="M658.75 364.3H664.45L661.6 369.1Z" fill="#fff" stroke="#f29494" stroke-width="1.05" stroke-linejoin="miter"/>
<path d="M662.95 364.8H668.65L665.8 369.6Z" fill="#fff" stroke="#f29494" stroke-width="1.05" stroke-linejoin="miter"/>
<path d="M644.85 369H650.55L647.7 373.8Z" fill="#fff" stroke="#f29494" stroke-width="1.05" stroke-linejoin="miter"/>
<path d="M652.05 369H657.75L654.9 373.8Z" fill="#fff" stroke="#f29494" stroke-width="1.05" stroke-linejoin="miter"/>
<path d="M659.25 369H664.95L662.1 373.8Z" fill="#fff" stroke="#f29494" stroke-width="1.05" stroke-linejoin="miter"/>
<path d="M645.85 373.1H651.55L648.7 377.9Z" fill="#fff" stroke="#f29494" stroke-width="1.05" stroke-linejoin="miter"/>
<path d="M658.75 373.1H664.45L661.6 377.9Z" fill="#fff" stroke="#f29494" stroke-width="1.05" stroke-linejoin="miter"/>
<path d="M563.2 349V354" stroke="#1010c8" stroke-width="1.2" fill="none"/>
<path d="M560.3 349H566.1M560.3 354H566.1" stroke="#1010c8" stroke-width="1.5" fill="none"/>
<path d="M593.9 348V352" stroke="#1010c8" stroke-width="1.2" fill="none"/>
<path d="M591 348H596.8M591 352H596.8" stroke="#1010c8" stroke-width="1.5" fill="none"/>
<path d="M624.6 363.3V368.3" stroke="#d01010" stroke-width="1.2" fill="none"/>
<path d="M621.7 363.3H627.5M621.7 368.3H627.5" stroke="#d01010" stroke-width="1.5" fill="none"/>
<path d="M655.3 363.8V366.8" stroke="#d01010" stroke-width="1.2" fill="none"/>
<path d="M652.4 363.8H658.2M652.4 366.8H658.2" stroke="#d01010" stroke-width="1.5" fill="none"/>
<path d="M581.7 282.7V266.2H638.4V328.6M567.1 282.7H596.7M626.4 328.6H651.8" stroke="#111" stroke-width="1.2" fill="none"/>
<text x="610.3" y="261.8" text-anchor="middle" font-size="12.5" font-weight="bold" font-style="italic" stroke="#000" stroke-width="0.25">####</text>
<path d="M548 397.7H670.7" stroke="#111" stroke-width="1.4"/>
<text x="530" y="404.9" font-size="6.6" font-weight="bold">ND</text>
<path d="M560.15 402.9H564.85M562.5 400.6V405.2" stroke="#111" stroke-width="1.25"/>
<path d="M590.85 402.9H595.55M593.2 400.6V405.2" stroke="#111" stroke-width="1.25"/>
<path d="M621.45 402.9H626.35" stroke="#111" stroke-width="1.25"/>
<path d="M652.15 402.9H657.05" stroke="#111" stroke-width="1.25"/>
<text x="530" y="413.4" font-size="6.6" font-weight="bold">D</text>
<path d="M560.05 411.4H564.95" stroke="#111" stroke-width="1.25"/>
<path d="M590.75 411.4H595.65" stroke="#111" stroke-width="1.25"/>
<path d="M621.55 411.4H626.25M623.9 409.1V413.7" stroke="#111" stroke-width="1.25"/>
<path d="M652.25 411.4H656.95M654.6 409.1V413.7" stroke="#111" stroke-width="1.25"/>
<text x="530" y="422" font-size="6.6" font-weight="bold">Veh</text>
<path d="M560.15 420H564.85M562.5 417.7V422.3" stroke="#111" stroke-width="1.25"/>
<path d="M590.75 420H595.65" stroke="#111" stroke-width="1.25"/>
<path d="M621.55 420H626.25M623.9 417.7V422.3" stroke="#111" stroke-width="1.25"/>
<path d="M652.15 420H657.05" stroke="#111" stroke-width="1.25"/>
<text x="530" y="430.5" font-size="6.6" font-weight="bold">LXA<tspan font-size="4.2" dy="1">4</tspan></text>
<path d="M560.05 428.5H564.95" stroke="#111" stroke-width="1.25"/>
<path d="M590.85 428.5H595.55M593.2 426.2V430.8" stroke="#111" stroke-width="1.25"/>
<path d="M621.45 428.5H626.35" stroke="#111" stroke-width="1.25"/>
<path d="M652.25 428.5H656.95M654.6 426.2V430.8" stroke="#111" stroke-width="1.25"/>
</svg>
</body></html>
